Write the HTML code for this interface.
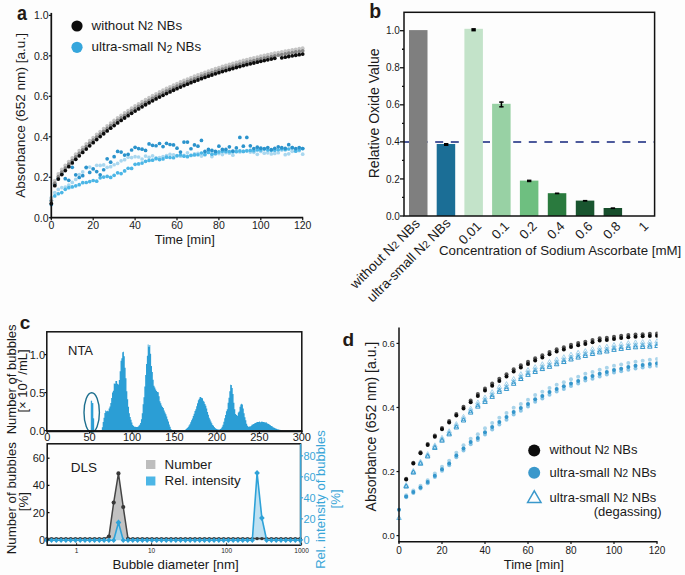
<!DOCTYPE html>
<html><head><meta charset="utf-8"><style>
html,body{margin:0;padding:0;background:#fdfdfd;}
svg{display:block;}
text{font-family:"Liberation Sans", sans-serif;}
</style></head><body>
<svg width="685" height="575" viewBox="0 0 685 575" font-family='"Liberation Sans", sans-serif'>
<rect width="685" height="575" fill="#fdfdfd"/>
<circle cx="51.30" cy="197.60" r="1.85" fill="#a9d7ef"/>
<circle cx="54.79" cy="192.52" r="1.85" fill="#a9d7ef"/>
<circle cx="58.28" cy="189.38" r="1.85" fill="#a9d7ef"/>
<circle cx="61.77" cy="187.62" r="1.85" fill="#a9d7ef"/>
<circle cx="65.27" cy="187.03" r="1.85" fill="#a9d7ef"/>
<circle cx="68.76" cy="185.16" r="1.85" fill="#a9d7ef"/>
<circle cx="72.25" cy="182.42" r="1.85" fill="#a9d7ef"/>
<circle cx="75.74" cy="179.44" r="1.85" fill="#a9d7ef"/>
<circle cx="79.23" cy="174.64" r="1.85" fill="#a9d7ef"/>
<circle cx="82.72" cy="171.94" r="1.85" fill="#a9d7ef"/>
<circle cx="86.22" cy="167.92" r="1.85" fill="#a9d7ef"/>
<circle cx="89.71" cy="167.11" r="1.85" fill="#a9d7ef"/>
<circle cx="93.20" cy="169.33" r="1.85" fill="#a9d7ef"/>
<circle cx="96.69" cy="165.31" r="1.85" fill="#a9d7ef"/>
<circle cx="100.18" cy="165.38" r="1.85" fill="#a9d7ef"/>
<circle cx="103.68" cy="164.97" r="1.85" fill="#a9d7ef"/>
<circle cx="107.17" cy="167.37" r="1.85" fill="#a9d7ef"/>
<circle cx="110.66" cy="166.71" r="1.85" fill="#a9d7ef"/>
<circle cx="114.15" cy="164.77" r="1.85" fill="#a9d7ef"/>
<circle cx="117.64" cy="163.44" r="1.85" fill="#a9d7ef"/>
<circle cx="121.13" cy="160.84" r="1.85" fill="#a9d7ef"/>
<circle cx="124.62" cy="159.64" r="1.85" fill="#a9d7ef"/>
<circle cx="128.12" cy="157.13" r="1.85" fill="#a9d7ef"/>
<circle cx="131.61" cy="157.53" r="1.85" fill="#a9d7ef"/>
<circle cx="135.10" cy="156.66" r="1.85" fill="#a9d7ef"/>
<circle cx="138.59" cy="157.02" r="1.85" fill="#a9d7ef"/>
<circle cx="142.08" cy="159.01" r="1.85" fill="#a9d7ef"/>
<circle cx="145.57" cy="156.11" r="1.85" fill="#a9d7ef"/>
<circle cx="149.07" cy="157.25" r="1.85" fill="#a9d7ef"/>
<circle cx="152.56" cy="155.83" r="1.85" fill="#a9d7ef"/>
<circle cx="156.05" cy="157.91" r="1.85" fill="#a9d7ef"/>
<circle cx="159.54" cy="157.57" r="1.85" fill="#a9d7ef"/>
<circle cx="163.03" cy="156.50" r="1.85" fill="#a9d7ef"/>
<circle cx="166.53" cy="155.65" r="1.85" fill="#a9d7ef"/>
<circle cx="170.02" cy="154.44" r="1.85" fill="#a9d7ef"/>
<circle cx="173.51" cy="154.83" r="1.85" fill="#a9d7ef"/>
<circle cx="177.00" cy="155.66" r="1.85" fill="#a9d7ef"/>
<circle cx="180.49" cy="156.23" r="1.85" fill="#a9d7ef"/>
<circle cx="183.98" cy="155.45" r="1.85" fill="#a9d7ef"/>
<circle cx="187.48" cy="152.81" r="1.85" fill="#a9d7ef"/>
<circle cx="190.97" cy="155.54" r="1.85" fill="#a9d7ef"/>
<circle cx="194.46" cy="153.89" r="1.85" fill="#a9d7ef"/>
<circle cx="197.95" cy="153.47" r="1.85" fill="#a9d7ef"/>
<circle cx="201.44" cy="156.10" r="1.85" fill="#a9d7ef"/>
<circle cx="204.93" cy="153.80" r="1.85" fill="#a9d7ef"/>
<circle cx="208.43" cy="151.91" r="1.85" fill="#a9d7ef"/>
<circle cx="211.92" cy="156.54" r="1.85" fill="#a9d7ef"/>
<circle cx="215.41" cy="154.03" r="1.85" fill="#a9d7ef"/>
<circle cx="218.90" cy="153.62" r="1.85" fill="#a9d7ef"/>
<circle cx="222.39" cy="154.53" r="1.85" fill="#a9d7ef"/>
<circle cx="225.88" cy="152.55" r="1.85" fill="#a9d7ef"/>
<circle cx="229.38" cy="153.25" r="1.85" fill="#a9d7ef"/>
<circle cx="232.87" cy="155.15" r="1.85" fill="#a9d7ef"/>
<circle cx="236.36" cy="151.78" r="1.85" fill="#a9d7ef"/>
<circle cx="239.85" cy="151.90" r="1.85" fill="#a9d7ef"/>
<circle cx="243.34" cy="151.43" r="1.85" fill="#a9d7ef"/>
<circle cx="246.83" cy="150.64" r="1.85" fill="#a9d7ef"/>
<circle cx="250.32" cy="152.10" r="1.85" fill="#a9d7ef"/>
<circle cx="253.82" cy="152.37" r="1.85" fill="#a9d7ef"/>
<circle cx="257.31" cy="154.31" r="1.85" fill="#a9d7ef"/>
<circle cx="260.80" cy="151.50" r="1.85" fill="#a9d7ef"/>
<circle cx="264.29" cy="153.17" r="1.85" fill="#a9d7ef"/>
<circle cx="267.78" cy="152.87" r="1.85" fill="#a9d7ef"/>
<circle cx="271.28" cy="153.95" r="1.85" fill="#a9d7ef"/>
<circle cx="274.77" cy="153.44" r="1.85" fill="#a9d7ef"/>
<circle cx="278.26" cy="152.74" r="1.85" fill="#a9d7ef"/>
<circle cx="281.75" cy="150.07" r="1.85" fill="#a9d7ef"/>
<circle cx="285.24" cy="154.72" r="1.85" fill="#a9d7ef"/>
<circle cx="288.73" cy="153.82" r="1.85" fill="#a9d7ef"/>
<circle cx="292.23" cy="151.33" r="1.85" fill="#a9d7ef"/>
<circle cx="295.72" cy="149.53" r="1.85" fill="#a9d7ef"/>
<circle cx="299.21" cy="150.68" r="1.85" fill="#a9d7ef"/>
<circle cx="302.70" cy="154.14" r="1.85" fill="#a9d7ef"/>
<circle cx="51.30" cy="200.31" r="1.85" fill="#4cb6e6"/>
<circle cx="54.79" cy="195.97" r="1.85" fill="#4cb6e6"/>
<circle cx="58.28" cy="193.74" r="1.85" fill="#4cb6e6"/>
<circle cx="61.77" cy="192.53" r="1.85" fill="#4cb6e6"/>
<circle cx="65.27" cy="189.30" r="1.85" fill="#4cb6e6"/>
<circle cx="68.76" cy="187.68" r="1.85" fill="#4cb6e6"/>
<circle cx="72.25" cy="186.93" r="1.85" fill="#4cb6e6"/>
<circle cx="75.74" cy="185.84" r="1.85" fill="#4cb6e6"/>
<circle cx="79.23" cy="184.67" r="1.85" fill="#4cb6e6"/>
<circle cx="82.72" cy="182.71" r="1.85" fill="#4cb6e6"/>
<circle cx="86.22" cy="182.48" r="1.85" fill="#4cb6e6"/>
<circle cx="89.71" cy="181.55" r="1.85" fill="#4cb6e6"/>
<circle cx="93.20" cy="180.51" r="1.85" fill="#4cb6e6"/>
<circle cx="96.69" cy="181.21" r="1.85" fill="#4cb6e6"/>
<circle cx="100.18" cy="177.87" r="1.85" fill="#4cb6e6"/>
<circle cx="103.68" cy="177.12" r="1.85" fill="#4cb6e6"/>
<circle cx="107.17" cy="176.45" r="1.85" fill="#4cb6e6"/>
<circle cx="110.66" cy="177.47" r="1.85" fill="#4cb6e6"/>
<circle cx="114.15" cy="175.36" r="1.85" fill="#4cb6e6"/>
<circle cx="117.64" cy="172.80" r="1.85" fill="#4cb6e6"/>
<circle cx="121.13" cy="173.60" r="1.85" fill="#4cb6e6"/>
<circle cx="124.62" cy="170.92" r="1.85" fill="#4cb6e6"/>
<circle cx="128.12" cy="168.25" r="1.85" fill="#4cb6e6"/>
<circle cx="131.61" cy="168.45" r="1.85" fill="#4cb6e6"/>
<circle cx="135.10" cy="164.37" r="1.85" fill="#4cb6e6"/>
<circle cx="138.59" cy="163.88" r="1.85" fill="#4cb6e6"/>
<circle cx="142.08" cy="163.09" r="1.85" fill="#4cb6e6"/>
<circle cx="145.57" cy="161.35" r="1.85" fill="#4cb6e6"/>
<circle cx="149.07" cy="160.40" r="1.85" fill="#4cb6e6"/>
<circle cx="152.56" cy="160.15" r="1.85" fill="#4cb6e6"/>
<circle cx="156.05" cy="158.64" r="1.85" fill="#4cb6e6"/>
<circle cx="159.54" cy="159.60" r="1.85" fill="#4cb6e6"/>
<circle cx="163.03" cy="158.89" r="1.85" fill="#4cb6e6"/>
<circle cx="166.53" cy="157.20" r="1.85" fill="#4cb6e6"/>
<circle cx="170.02" cy="157.52" r="1.85" fill="#4cb6e6"/>
<circle cx="173.51" cy="157.75" r="1.85" fill="#4cb6e6"/>
<circle cx="177.00" cy="155.75" r="1.85" fill="#4cb6e6"/>
<circle cx="180.49" cy="154.99" r="1.85" fill="#4cb6e6"/>
<circle cx="183.98" cy="156.20" r="1.85" fill="#4cb6e6"/>
<circle cx="187.48" cy="156.63" r="1.85" fill="#4cb6e6"/>
<circle cx="190.97" cy="155.27" r="1.85" fill="#4cb6e6"/>
<circle cx="194.46" cy="154.94" r="1.85" fill="#4cb6e6"/>
<circle cx="197.95" cy="154.73" r="1.85" fill="#4cb6e6"/>
<circle cx="201.44" cy="153.00" r="1.85" fill="#4cb6e6"/>
<circle cx="204.93" cy="154.64" r="1.85" fill="#4cb6e6"/>
<circle cx="208.43" cy="152.44" r="1.85" fill="#4cb6e6"/>
<circle cx="211.92" cy="154.16" r="1.85" fill="#4cb6e6"/>
<circle cx="215.41" cy="153.43" r="1.85" fill="#4cb6e6"/>
<circle cx="218.90" cy="151.93" r="1.85" fill="#4cb6e6"/>
<circle cx="222.39" cy="151.36" r="1.85" fill="#4cb6e6"/>
<circle cx="225.88" cy="151.41" r="1.85" fill="#4cb6e6"/>
<circle cx="229.38" cy="151.66" r="1.85" fill="#4cb6e6"/>
<circle cx="232.87" cy="151.65" r="1.85" fill="#4cb6e6"/>
<circle cx="236.36" cy="151.48" r="1.85" fill="#4cb6e6"/>
<circle cx="239.85" cy="150.96" r="1.85" fill="#4cb6e6"/>
<circle cx="243.34" cy="151.40" r="1.85" fill="#4cb6e6"/>
<circle cx="246.83" cy="150.86" r="1.85" fill="#4cb6e6"/>
<circle cx="250.32" cy="150.45" r="1.85" fill="#4cb6e6"/>
<circle cx="253.82" cy="150.75" r="1.85" fill="#4cb6e6"/>
<circle cx="257.31" cy="149.96" r="1.85" fill="#4cb6e6"/>
<circle cx="260.80" cy="149.95" r="1.85" fill="#4cb6e6"/>
<circle cx="264.29" cy="148.64" r="1.85" fill="#4cb6e6"/>
<circle cx="267.78" cy="149.88" r="1.85" fill="#4cb6e6"/>
<circle cx="271.28" cy="150.35" r="1.85" fill="#4cb6e6"/>
<circle cx="274.77" cy="150.17" r="1.85" fill="#4cb6e6"/>
<circle cx="278.26" cy="149.74" r="1.85" fill="#4cb6e6"/>
<circle cx="281.75" cy="148.85" r="1.85" fill="#4cb6e6"/>
<circle cx="285.24" cy="149.74" r="1.85" fill="#4cb6e6"/>
<circle cx="288.73" cy="149.01" r="1.85" fill="#4cb6e6"/>
<circle cx="292.23" cy="147.69" r="1.85" fill="#4cb6e6"/>
<circle cx="295.72" cy="151.14" r="1.85" fill="#4cb6e6"/>
<circle cx="299.21" cy="149.83" r="1.85" fill="#4cb6e6"/>
<circle cx="302.70" cy="148.58" r="1.85" fill="#4cb6e6"/>
<circle cx="51.30" cy="204.57" r="1.85" fill="#2b93cc"/>
<circle cx="54.79" cy="184.45" r="1.85" fill="#2b93cc"/>
<circle cx="58.28" cy="178.70" r="1.85" fill="#2b93cc"/>
<circle cx="61.77" cy="174.03" r="1.85" fill="#2b93cc"/>
<circle cx="65.27" cy="178.70" r="1.85" fill="#2b93cc"/>
<circle cx="68.76" cy="180.32" r="1.85" fill="#2b93cc"/>
<circle cx="72.25" cy="167.31" r="1.85" fill="#2b93cc"/>
<circle cx="75.74" cy="174.83" r="1.85" fill="#2b93cc"/>
<circle cx="79.23" cy="177.49" r="1.85" fill="#2b93cc"/>
<circle cx="82.72" cy="175.66" r="1.85" fill="#2b93cc"/>
<circle cx="86.22" cy="167.33" r="1.85" fill="#2b93cc"/>
<circle cx="89.71" cy="172.39" r="1.85" fill="#2b93cc"/>
<circle cx="93.20" cy="168.74" r="1.85" fill="#2b93cc"/>
<circle cx="96.69" cy="171.58" r="1.85" fill="#2b93cc"/>
<circle cx="100.18" cy="174.83" r="1.85" fill="#2b93cc"/>
<circle cx="103.68" cy="169.75" r="1.85" fill="#2b93cc"/>
<circle cx="107.17" cy="158.78" r="1.85" fill="#2b93cc"/>
<circle cx="110.66" cy="162.21" r="1.85" fill="#2b93cc"/>
<circle cx="114.15" cy="156.72" r="1.85" fill="#2b93cc"/>
<circle cx="117.64" cy="151.44" r="1.85" fill="#2b93cc"/>
<circle cx="121.13" cy="152.05" r="1.85" fill="#2b93cc"/>
<circle cx="124.62" cy="155.09" r="1.85" fill="#2b93cc"/>
<circle cx="128.12" cy="154.28" r="1.85" fill="#2b93cc"/>
<circle cx="131.61" cy="150.00" r="1.85" fill="#2b93cc"/>
<circle cx="135.10" cy="147.36" r="1.85" fill="#2b93cc"/>
<circle cx="138.59" cy="148.58" r="1.85" fill="#2b93cc"/>
<circle cx="142.08" cy="149.19" r="1.85" fill="#2b93cc"/>
<circle cx="145.57" cy="150.41" r="1.85" fill="#2b93cc"/>
<circle cx="149.07" cy="143.91" r="1.85" fill="#2b93cc"/>
<circle cx="152.56" cy="145.32" r="1.85" fill="#2b93cc"/>
<circle cx="156.05" cy="145.73" r="1.85" fill="#2b93cc"/>
<circle cx="159.54" cy="143.49" r="1.85" fill="#2b93cc"/>
<circle cx="163.03" cy="146.54" r="1.85" fill="#2b93cc"/>
<circle cx="166.53" cy="143.29" r="1.85" fill="#2b93cc"/>
<circle cx="170.02" cy="144.51" r="1.85" fill="#2b93cc"/>
<circle cx="173.51" cy="144.92" r="1.85" fill="#2b93cc"/>
<circle cx="177.00" cy="148.17" r="1.85" fill="#2b93cc"/>
<circle cx="180.49" cy="152.03" r="1.85" fill="#2b93cc"/>
<circle cx="183.98" cy="142.06" r="1.85" fill="#2b93cc"/>
<circle cx="187.48" cy="142.06" r="1.85" fill="#2b93cc"/>
<circle cx="190.97" cy="148.77" r="1.85" fill="#2b93cc"/>
<circle cx="194.46" cy="144.92" r="1.85" fill="#2b93cc"/>
<circle cx="197.95" cy="146.14" r="1.85" fill="#2b93cc"/>
<circle cx="201.44" cy="140.45" r="1.85" fill="#2b93cc"/>
<circle cx="204.93" cy="151.43" r="1.85" fill="#2b93cc"/>
<circle cx="208.43" cy="149.39" r="1.85" fill="#2b93cc"/>
<circle cx="211.92" cy="150.41" r="1.85" fill="#2b93cc"/>
<circle cx="215.41" cy="151.42" r="1.85" fill="#2b93cc"/>
<circle cx="218.90" cy="146.14" r="1.85" fill="#2b93cc"/>
<circle cx="222.39" cy="149.45" r="1.85" fill="#2b93cc"/>
<circle cx="225.88" cy="149.40" r="1.85" fill="#2b93cc"/>
<circle cx="229.38" cy="146.81" r="1.85" fill="#2b93cc"/>
<circle cx="232.87" cy="151.03" r="1.85" fill="#2b93cc"/>
<circle cx="236.36" cy="147.97" r="1.85" fill="#2b93cc"/>
<circle cx="239.85" cy="137.38" r="1.85" fill="#2b93cc"/>
<circle cx="243.34" cy="146.20" r="1.85" fill="#2b93cc"/>
<circle cx="246.83" cy="137.38" r="1.85" fill="#2b93cc"/>
<circle cx="250.32" cy="145.83" r="1.85" fill="#2b93cc"/>
<circle cx="253.82" cy="148.48" r="1.85" fill="#2b93cc"/>
<circle cx="257.31" cy="147.20" r="1.85" fill="#2b93cc"/>
<circle cx="260.80" cy="148.17" r="1.85" fill="#2b93cc"/>
<circle cx="264.29" cy="148.82" r="1.85" fill="#2b93cc"/>
<circle cx="267.78" cy="147.56" r="1.85" fill="#2b93cc"/>
<circle cx="271.28" cy="149.56" r="1.85" fill="#2b93cc"/>
<circle cx="274.77" cy="148.27" r="1.85" fill="#2b93cc"/>
<circle cx="278.26" cy="146.77" r="1.85" fill="#2b93cc"/>
<circle cx="281.75" cy="147.68" r="1.85" fill="#2b93cc"/>
<circle cx="285.24" cy="148.35" r="1.85" fill="#2b93cc"/>
<circle cx="288.73" cy="144.64" r="1.85" fill="#2b93cc"/>
<circle cx="292.23" cy="147.68" r="1.85" fill="#2b93cc"/>
<circle cx="295.72" cy="148.60" r="1.85" fill="#2b93cc"/>
<circle cx="299.21" cy="147.54" r="1.85" fill="#2b93cc"/>
<circle cx="302.70" cy="148.51" r="1.85" fill="#2b93cc"/>
<circle cx="51.30" cy="198.46" r="1.9" fill="#c4c4c4"/>
<circle cx="54.79" cy="180.55" r="1.9" fill="#c4c4c4"/>
<circle cx="58.28" cy="173.98" r="1.9" fill="#c4c4c4"/>
<circle cx="61.77" cy="169.50" r="1.9" fill="#c4c4c4"/>
<circle cx="65.27" cy="165.47" r="1.9" fill="#c4c4c4"/>
<circle cx="68.76" cy="161.62" r="1.9" fill="#c4c4c4"/>
<circle cx="72.25" cy="157.88" r="1.9" fill="#c4c4c4"/>
<circle cx="75.74" cy="154.25" r="1.9" fill="#c4c4c4"/>
<circle cx="79.23" cy="150.72" r="1.9" fill="#c4c4c4"/>
<circle cx="82.72" cy="147.29" r="1.9" fill="#c4c4c4"/>
<circle cx="86.22" cy="143.96" r="1.9" fill="#c4c4c4"/>
<circle cx="89.71" cy="140.72" r="1.9" fill="#c4c4c4"/>
<circle cx="93.20" cy="137.57" r="1.9" fill="#c4c4c4"/>
<circle cx="96.69" cy="134.51" r="1.9" fill="#c4c4c4"/>
<circle cx="100.18" cy="131.53" r="1.9" fill="#c4c4c4"/>
<circle cx="103.68" cy="128.64" r="1.9" fill="#c4c4c4"/>
<circle cx="107.17" cy="125.83" r="1.9" fill="#c4c4c4"/>
<circle cx="110.66" cy="123.10" r="1.9" fill="#c4c4c4"/>
<circle cx="114.15" cy="120.44" r="1.9" fill="#c4c4c4"/>
<circle cx="117.64" cy="117.86" r="1.9" fill="#c4c4c4"/>
<circle cx="121.13" cy="115.35" r="1.9" fill="#c4c4c4"/>
<circle cx="124.62" cy="112.92" r="1.9" fill="#c4c4c4"/>
<circle cx="128.12" cy="110.55" r="1.9" fill="#c4c4c4"/>
<circle cx="131.61" cy="108.24" r="1.9" fill="#c4c4c4"/>
<circle cx="135.10" cy="106.00" r="1.9" fill="#c4c4c4"/>
<circle cx="138.59" cy="103.83" r="1.9" fill="#c4c4c4"/>
<circle cx="142.08" cy="101.71" r="1.9" fill="#c4c4c4"/>
<circle cx="145.57" cy="99.66" r="1.9" fill="#c4c4c4"/>
<circle cx="149.07" cy="97.66" r="1.9" fill="#c4c4c4"/>
<circle cx="152.56" cy="95.72" r="1.9" fill="#c4c4c4"/>
<circle cx="156.05" cy="93.83" r="1.9" fill="#c4c4c4"/>
<circle cx="159.54" cy="91.99" r="1.9" fill="#c4c4c4"/>
<circle cx="163.03" cy="90.21" r="1.9" fill="#c4c4c4"/>
<circle cx="166.53" cy="88.48" r="1.9" fill="#c4c4c4"/>
<circle cx="170.02" cy="86.79" r="1.9" fill="#c4c4c4"/>
<circle cx="173.51" cy="85.15" r="1.9" fill="#c4c4c4"/>
<circle cx="177.00" cy="83.56" r="1.9" fill="#c4c4c4"/>
<circle cx="180.49" cy="82.01" r="1.9" fill="#c4c4c4"/>
<circle cx="183.98" cy="80.51" r="1.9" fill="#c4c4c4"/>
<circle cx="187.48" cy="79.05" r="1.9" fill="#c4c4c4"/>
<circle cx="190.97" cy="77.63" r="1.9" fill="#c4c4c4"/>
<circle cx="194.46" cy="76.25" r="1.9" fill="#c4c4c4"/>
<circle cx="197.95" cy="74.90" r="1.9" fill="#c4c4c4"/>
<circle cx="201.44" cy="73.60" r="1.9" fill="#c4c4c4"/>
<circle cx="204.93" cy="72.33" r="1.9" fill="#c4c4c4"/>
<circle cx="208.43" cy="71.10" r="1.9" fill="#c4c4c4"/>
<circle cx="211.92" cy="69.90" r="1.9" fill="#c4c4c4"/>
<circle cx="215.41" cy="68.74" r="1.9" fill="#c4c4c4"/>
<circle cx="218.90" cy="67.60" r="1.9" fill="#c4c4c4"/>
<circle cx="222.39" cy="66.50" r="1.9" fill="#c4c4c4"/>
<circle cx="225.88" cy="65.44" r="1.9" fill="#c4c4c4"/>
<circle cx="229.38" cy="64.40" r="1.9" fill="#c4c4c4"/>
<circle cx="232.87" cy="63.39" r="1.9" fill="#c4c4c4"/>
<circle cx="236.36" cy="62.40" r="1.9" fill="#c4c4c4"/>
<circle cx="239.85" cy="61.45" r="1.9" fill="#c4c4c4"/>
<circle cx="243.34" cy="60.52" r="1.9" fill="#c4c4c4"/>
<circle cx="246.83" cy="59.62" r="1.9" fill="#c4c4c4"/>
<circle cx="250.32" cy="58.74" r="1.9" fill="#c4c4c4"/>
<circle cx="253.82" cy="57.89" r="1.9" fill="#c4c4c4"/>
<circle cx="257.31" cy="57.06" r="1.9" fill="#c4c4c4"/>
<circle cx="260.80" cy="56.26" r="1.9" fill="#c4c4c4"/>
<circle cx="264.29" cy="55.48" r="1.9" fill="#c4c4c4"/>
<circle cx="267.78" cy="54.72" r="1.9" fill="#c4c4c4"/>
<circle cx="271.28" cy="53.98" r="1.9" fill="#c4c4c4"/>
<circle cx="274.77" cy="53.26" r="1.9" fill="#c4c4c4"/>
<circle cx="278.26" cy="52.56" r="1.9" fill="#c4c4c4"/>
<circle cx="281.75" cy="51.88" r="1.9" fill="#c4c4c4"/>
<circle cx="285.24" cy="51.22" r="1.9" fill="#c4c4c4"/>
<circle cx="288.73" cy="50.58" r="1.9" fill="#c4c4c4"/>
<circle cx="292.23" cy="49.96" r="1.9" fill="#c4c4c4"/>
<circle cx="295.72" cy="49.35" r="1.9" fill="#c4c4c4"/>
<circle cx="299.21" cy="48.77" r="1.9" fill="#c4c4c4"/>
<circle cx="302.70" cy="48.19" r="1.9" fill="#c4c4c4"/>
<circle cx="51.30" cy="201.11" r="1.9" fill="#858585"/>
<circle cx="54.79" cy="183.20" r="1.9" fill="#858585"/>
<circle cx="58.28" cy="176.63" r="1.9" fill="#858585"/>
<circle cx="61.77" cy="172.15" r="1.9" fill="#858585"/>
<circle cx="65.27" cy="168.12" r="1.9" fill="#858585"/>
<circle cx="68.76" cy="164.27" r="1.9" fill="#858585"/>
<circle cx="72.25" cy="160.53" r="1.9" fill="#858585"/>
<circle cx="75.74" cy="156.90" r="1.9" fill="#858585"/>
<circle cx="79.23" cy="153.37" r="1.9" fill="#858585"/>
<circle cx="82.72" cy="149.94" r="1.9" fill="#858585"/>
<circle cx="86.22" cy="146.61" r="1.9" fill="#858585"/>
<circle cx="89.71" cy="143.37" r="1.9" fill="#858585"/>
<circle cx="93.20" cy="140.22" r="1.9" fill="#858585"/>
<circle cx="96.69" cy="137.16" r="1.9" fill="#858585"/>
<circle cx="100.18" cy="134.18" r="1.9" fill="#858585"/>
<circle cx="103.68" cy="131.29" r="1.9" fill="#858585"/>
<circle cx="107.17" cy="128.48" r="1.9" fill="#858585"/>
<circle cx="110.66" cy="125.75" r="1.9" fill="#858585"/>
<circle cx="114.15" cy="123.09" r="1.9" fill="#858585"/>
<circle cx="117.64" cy="120.51" r="1.9" fill="#858585"/>
<circle cx="121.13" cy="118.00" r="1.9" fill="#858585"/>
<circle cx="124.62" cy="115.56" r="1.9" fill="#858585"/>
<circle cx="128.12" cy="113.19" r="1.9" fill="#858585"/>
<circle cx="131.61" cy="110.89" r="1.9" fill="#858585"/>
<circle cx="135.10" cy="108.65" r="1.9" fill="#858585"/>
<circle cx="138.59" cy="106.47" r="1.9" fill="#858585"/>
<circle cx="142.08" cy="104.36" r="1.9" fill="#858585"/>
<circle cx="145.57" cy="102.30" r="1.9" fill="#858585"/>
<circle cx="149.07" cy="100.30" r="1.9" fill="#858585"/>
<circle cx="152.56" cy="98.36" r="1.9" fill="#858585"/>
<circle cx="156.05" cy="96.47" r="1.9" fill="#858585"/>
<circle cx="159.54" cy="94.64" r="1.9" fill="#858585"/>
<circle cx="163.03" cy="92.86" r="1.9" fill="#858585"/>
<circle cx="166.53" cy="91.12" r="1.9" fill="#858585"/>
<circle cx="170.02" cy="89.44" r="1.9" fill="#858585"/>
<circle cx="173.51" cy="87.80" r="1.9" fill="#858585"/>
<circle cx="177.00" cy="86.21" r="1.9" fill="#858585"/>
<circle cx="180.49" cy="84.66" r="1.9" fill="#858585"/>
<circle cx="183.98" cy="83.16" r="1.9" fill="#858585"/>
<circle cx="187.48" cy="81.69" r="1.9" fill="#858585"/>
<circle cx="190.97" cy="80.27" r="1.9" fill="#858585"/>
<circle cx="194.46" cy="78.89" r="1.9" fill="#858585"/>
<circle cx="197.95" cy="77.55" r="1.9" fill="#858585"/>
<circle cx="201.44" cy="76.25" r="1.9" fill="#858585"/>
<circle cx="204.93" cy="74.98" r="1.9" fill="#858585"/>
<circle cx="208.43" cy="73.75" r="1.9" fill="#858585"/>
<circle cx="211.92" cy="72.55" r="1.9" fill="#858585"/>
<circle cx="215.41" cy="71.38" r="1.9" fill="#858585"/>
<circle cx="218.90" cy="70.25" r="1.9" fill="#858585"/>
<circle cx="222.39" cy="69.15" r="1.9" fill="#858585"/>
<circle cx="225.88" cy="68.08" r="1.9" fill="#858585"/>
<circle cx="229.38" cy="67.04" r="1.9" fill="#858585"/>
<circle cx="232.87" cy="66.03" r="1.9" fill="#858585"/>
<circle cx="236.36" cy="65.05" r="1.9" fill="#858585"/>
<circle cx="239.85" cy="64.10" r="1.9" fill="#858585"/>
<circle cx="243.34" cy="63.17" r="1.9" fill="#858585"/>
<circle cx="246.83" cy="62.27" r="1.9" fill="#858585"/>
<circle cx="250.32" cy="61.39" r="1.9" fill="#858585"/>
<circle cx="253.82" cy="60.54" r="1.9" fill="#858585"/>
<circle cx="257.31" cy="59.71" r="1.9" fill="#858585"/>
<circle cx="260.80" cy="58.91" r="1.9" fill="#858585"/>
<circle cx="264.29" cy="58.12" r="1.9" fill="#858585"/>
<circle cx="267.78" cy="57.36" r="1.9" fill="#858585"/>
<circle cx="271.28" cy="56.63" r="1.9" fill="#858585"/>
<circle cx="274.77" cy="55.91" r="1.9" fill="#858585"/>
<circle cx="278.26" cy="55.21" r="1.9" fill="#858585"/>
<circle cx="281.75" cy="54.53" r="1.9" fill="#858585"/>
<circle cx="285.24" cy="53.87" r="1.9" fill="#858585"/>
<circle cx="288.73" cy="53.23" r="1.9" fill="#858585"/>
<circle cx="292.23" cy="52.61" r="1.9" fill="#858585"/>
<circle cx="295.72" cy="52.00" r="1.9" fill="#858585"/>
<circle cx="299.21" cy="51.41" r="1.9" fill="#858585"/>
<circle cx="302.70" cy="50.84" r="1.9" fill="#858585"/>
<circle cx="51.30" cy="203.55" r="1.9" fill="#0d0d0d"/>
<circle cx="54.79" cy="185.64" r="1.9" fill="#0d0d0d"/>
<circle cx="58.28" cy="179.07" r="1.9" fill="#0d0d0d"/>
<circle cx="61.77" cy="174.59" r="1.9" fill="#0d0d0d"/>
<circle cx="65.27" cy="170.56" r="1.9" fill="#0d0d0d"/>
<circle cx="68.76" cy="166.71" r="1.9" fill="#0d0d0d"/>
<circle cx="72.25" cy="162.97" r="1.9" fill="#0d0d0d"/>
<circle cx="75.74" cy="159.34" r="1.9" fill="#0d0d0d"/>
<circle cx="79.23" cy="155.81" r="1.9" fill="#0d0d0d"/>
<circle cx="82.72" cy="152.38" r="1.9" fill="#0d0d0d"/>
<circle cx="86.22" cy="149.05" r="1.9" fill="#0d0d0d"/>
<circle cx="89.71" cy="145.81" r="1.9" fill="#0d0d0d"/>
<circle cx="93.20" cy="142.66" r="1.9" fill="#0d0d0d"/>
<circle cx="96.69" cy="139.60" r="1.9" fill="#0d0d0d"/>
<circle cx="100.18" cy="136.62" r="1.9" fill="#0d0d0d"/>
<circle cx="103.68" cy="133.73" r="1.9" fill="#0d0d0d"/>
<circle cx="107.17" cy="130.92" r="1.9" fill="#0d0d0d"/>
<circle cx="110.66" cy="128.19" r="1.9" fill="#0d0d0d"/>
<circle cx="114.15" cy="125.53" r="1.9" fill="#0d0d0d"/>
<circle cx="117.64" cy="122.95" r="1.9" fill="#0d0d0d"/>
<circle cx="121.13" cy="120.44" r="1.9" fill="#0d0d0d"/>
<circle cx="124.62" cy="118.01" r="1.9" fill="#0d0d0d"/>
<circle cx="128.12" cy="115.64" r="1.9" fill="#0d0d0d"/>
<circle cx="131.61" cy="113.33" r="1.9" fill="#0d0d0d"/>
<circle cx="135.10" cy="111.09" r="1.9" fill="#0d0d0d"/>
<circle cx="138.59" cy="108.92" r="1.9" fill="#0d0d0d"/>
<circle cx="142.08" cy="106.80" r="1.9" fill="#0d0d0d"/>
<circle cx="145.57" cy="104.75" r="1.9" fill="#0d0d0d"/>
<circle cx="149.07" cy="102.75" r="1.9" fill="#0d0d0d"/>
<circle cx="152.56" cy="100.81" r="1.9" fill="#0d0d0d"/>
<circle cx="156.05" cy="98.92" r="1.9" fill="#0d0d0d"/>
<circle cx="159.54" cy="97.08" r="1.9" fill="#0d0d0d"/>
<circle cx="163.03" cy="95.30" r="1.9" fill="#0d0d0d"/>
<circle cx="166.53" cy="93.57" r="1.9" fill="#0d0d0d"/>
<circle cx="170.02" cy="91.88" r="1.9" fill="#0d0d0d"/>
<circle cx="173.51" cy="90.24" r="1.9" fill="#0d0d0d"/>
<circle cx="177.00" cy="88.65" r="1.9" fill="#0d0d0d"/>
<circle cx="180.49" cy="87.10" r="1.9" fill="#0d0d0d"/>
<circle cx="183.98" cy="85.60" r="1.9" fill="#0d0d0d"/>
<circle cx="187.48" cy="84.14" r="1.9" fill="#0d0d0d"/>
<circle cx="190.97" cy="82.72" r="1.9" fill="#0d0d0d"/>
<circle cx="194.46" cy="81.34" r="1.9" fill="#0d0d0d"/>
<circle cx="197.95" cy="79.99" r="1.9" fill="#0d0d0d"/>
<circle cx="201.44" cy="78.69" r="1.9" fill="#0d0d0d"/>
<circle cx="204.93" cy="77.42" r="1.9" fill="#0d0d0d"/>
<circle cx="208.43" cy="76.19" r="1.9" fill="#0d0d0d"/>
<circle cx="211.92" cy="74.99" r="1.9" fill="#0d0d0d"/>
<circle cx="215.41" cy="73.83" r="1.9" fill="#0d0d0d"/>
<circle cx="218.90" cy="72.69" r="1.9" fill="#0d0d0d"/>
<circle cx="222.39" cy="71.59" r="1.9" fill="#0d0d0d"/>
<circle cx="225.88" cy="70.53" r="1.9" fill="#0d0d0d"/>
<circle cx="229.38" cy="69.49" r="1.9" fill="#0d0d0d"/>
<circle cx="232.87" cy="68.48" r="1.9" fill="#0d0d0d"/>
<circle cx="236.36" cy="67.49" r="1.9" fill="#0d0d0d"/>
<circle cx="239.85" cy="66.54" r="1.9" fill="#0d0d0d"/>
<circle cx="243.34" cy="65.61" r="1.9" fill="#0d0d0d"/>
<circle cx="246.83" cy="64.71" r="1.9" fill="#0d0d0d"/>
<circle cx="250.32" cy="63.83" r="1.9" fill="#0d0d0d"/>
<circle cx="253.82" cy="62.98" r="1.9" fill="#0d0d0d"/>
<circle cx="257.31" cy="62.15" r="1.9" fill="#0d0d0d"/>
<circle cx="260.80" cy="61.35" r="1.9" fill="#0d0d0d"/>
<circle cx="264.29" cy="60.57" r="1.9" fill="#0d0d0d"/>
<circle cx="267.78" cy="59.81" r="1.9" fill="#0d0d0d"/>
<circle cx="271.28" cy="59.07" r="1.9" fill="#0d0d0d"/>
<circle cx="274.77" cy="58.35" r="1.9" fill="#0d0d0d"/>
<circle cx="281.75" cy="57.79" r="1.9" fill="#0d0d0d"/>
<circle cx="285.24" cy="57.13" r="1.9" fill="#0d0d0d"/>
<circle cx="288.73" cy="56.49" r="1.9" fill="#0d0d0d"/>
<circle cx="292.23" cy="55.86" r="1.9" fill="#0d0d0d"/>
<circle cx="295.72" cy="55.26" r="1.9" fill="#0d0d0d"/>
<circle cx="299.21" cy="54.67" r="1.9" fill="#0d0d0d"/>
<circle cx="302.70" cy="54.10" r="1.9" fill="#0d0d0d"/>
<line x1="51.30" y1="12.90" x2="51.30" y2="218.50" stroke="#111" stroke-width="1.7" />
<line x1="50.50" y1="217.70" x2="303.20" y2="217.70" stroke="#111" stroke-width="1.7" />
<line x1="48.80" y1="217.70" x2="51.30" y2="217.70" stroke="#111" stroke-width="1.2" />
<text x="48.60" y="221.50" font-size="10.5" text-anchor="end" font-weight="normal" fill="#1a1a1a" >0.0</text>
<line x1="48.80" y1="177.24" x2="51.30" y2="177.24" stroke="#111" stroke-width="1.2" />
<text x="48.60" y="181.04" font-size="10.5" text-anchor="end" font-weight="normal" fill="#1a1a1a" >0.2</text>
<line x1="48.80" y1="136.78" x2="51.30" y2="136.78" stroke="#111" stroke-width="1.2" />
<text x="48.60" y="140.58" font-size="10.5" text-anchor="end" font-weight="normal" fill="#1a1a1a" >0.4</text>
<line x1="48.80" y1="96.32" x2="51.30" y2="96.32" stroke="#111" stroke-width="1.2" />
<text x="48.60" y="100.12" font-size="10.5" text-anchor="end" font-weight="normal" fill="#1a1a1a" >0.6</text>
<line x1="48.80" y1="55.86" x2="51.30" y2="55.86" stroke="#111" stroke-width="1.2" />
<text x="48.60" y="59.66" font-size="10.5" text-anchor="end" font-weight="normal" fill="#1a1a1a" >0.8</text>
<line x1="48.80" y1="15.40" x2="51.30" y2="15.40" stroke="#111" stroke-width="1.2" />
<text x="48.60" y="19.20" font-size="10.5" text-anchor="end" font-weight="normal" fill="#1a1a1a" >1.0</text>
<line x1="51.30" y1="217.70" x2="51.30" y2="220.20" stroke="#111" stroke-width="1.2" />
<text x="51.30" y="229.30" font-size="10.5" text-anchor="middle" font-weight="normal" fill="#1a1a1a" >0</text>
<line x1="93.20" y1="217.70" x2="93.20" y2="220.20" stroke="#111" stroke-width="1.2" />
<text x="93.20" y="229.30" font-size="10.5" text-anchor="middle" font-weight="normal" fill="#1a1a1a" >20</text>
<line x1="135.10" y1="217.70" x2="135.10" y2="220.20" stroke="#111" stroke-width="1.2" />
<text x="135.10" y="229.30" font-size="10.5" text-anchor="middle" font-weight="normal" fill="#1a1a1a" >40</text>
<line x1="177.00" y1="217.70" x2="177.00" y2="220.20" stroke="#111" stroke-width="1.2" />
<text x="177.00" y="229.30" font-size="10.5" text-anchor="middle" font-weight="normal" fill="#1a1a1a" >60</text>
<line x1="218.90" y1="217.70" x2="218.90" y2="220.20" stroke="#111" stroke-width="1.2" />
<text x="218.90" y="229.30" font-size="10.5" text-anchor="middle" font-weight="normal" fill="#1a1a1a" >80</text>
<line x1="260.80" y1="217.70" x2="260.80" y2="220.20" stroke="#111" stroke-width="1.2" />
<text x="260.80" y="229.30" font-size="10.5" text-anchor="middle" font-weight="normal" fill="#1a1a1a" >100</text>
<line x1="302.70" y1="217.70" x2="302.70" y2="220.20" stroke="#111" stroke-width="1.2" />
<text x="302.70" y="229.30" font-size="10.5" text-anchor="middle" font-weight="normal" fill="#1a1a1a" >120</text>
<text x="184.80" y="244.20" font-size="13" text-anchor="middle" font-weight="normal" fill="#1a1a1a" >Time [min]</text>
<text x="0" y="0" font-size="13.6" text-anchor="middle" fill="#1a1a1a" transform="translate(25.20,115.40) rotate(-90)">Absorbance (652 nm) [a.u.]</text>
<text x="0" y="0" font-size="19.5" font-weight="bold" fill="#231a16" transform="translate(16.9,20.0) scale(0.92,1)">a</text>
<circle cx="77.00" cy="26.00" r="5.6" fill="#0d0d0d"/>
<circle cx="77.00" cy="47.30" r="5.6" fill="#35a6dc"/>
<text x="91.50" y="29.60" font-size="13.4" text-anchor="start" font-weight="normal" fill="#1a1a1a" >without N<tspan font-size="10.5">2</tspan> NBs</text>
<text x="91.50" y="50.60" font-size="13.4" text-anchor="start" font-weight="normal" fill="#1a1a1a" >ultra-small N<tspan font-size="10" dy="2.5">2</tspan><tspan dy="-2.5"> NBs</tspan></text>
<line x1="404.00" y1="141.88" x2="654.60" y2="141.88" stroke="#4d5a9c" stroke-width="2" stroke-dasharray="8 7.6"/>
<rect x="409.00" y="30.10" width="18.5" height="185.90" fill="#7f7f7f"/>
<rect x="436.70" y="144.00" width="18.5" height="72.00" fill="#1b6e96"/>
<rect x="444.00" y="143.00" width="4.4" height="3.0" fill="#000"/>
<rect x="464.40" y="28.80" width="18.5" height="187.20" fill="#c3e3c9"/>
<rect x="471.40" y="28.10" width="4.4" height="3.3" fill="#000"/>
<rect x="492.10" y="103.80" width="18.5" height="112.20" fill="#98d1a4"/>
<line x1="501.40" y1="101.60" x2="501.40" y2="107.20" stroke="#000" stroke-width="1.5" />
<line x1="499.20" y1="102.10" x2="503.60" y2="102.10" stroke="#000" stroke-width="1.5" />
<line x1="499.20" y1="106.80" x2="503.60" y2="106.80" stroke="#000" stroke-width="1.5" />
<rect x="519.90" y="180.60" width="18.5" height="35.40" fill="#6ebf80"/>
<rect x="527.00" y="179.60" width="4.4" height="2.6" fill="#000"/>
<rect x="547.80" y="193.20" width="18.5" height="22.80" fill="#2a7a3e"/>
<rect x="554.90" y="192.50" width="4.4" height="1.8" fill="#000"/>
<rect x="575.80" y="200.60" width="18.5" height="15.40" fill="#19552f"/>
<rect x="582.90" y="199.90" width="4.4" height="1.8" fill="#000"/>
<rect x="603.60" y="208.00" width="18.5" height="8.00" fill="#174e2c"/>
<rect x="610.70" y="207.30" width="4.4" height="1.8" fill="#000"/>
<rect x="404" y="12.3" width="250.60" height="203.70" fill="none" stroke="#111" stroke-width="1.5"/>
<line x1="400.00" y1="216.00" x2="404.00" y2="216.00" stroke="#111" stroke-width="1.3" />
<text x="399.80" y="219.60" font-size="10" text-anchor="end" font-weight="normal" fill="#1a1a1a" >0.0</text>
<line x1="402.00" y1="197.47" x2="404.00" y2="197.47" stroke="#111" stroke-width="1.3" />
<line x1="400.00" y1="178.94" x2="404.00" y2="178.94" stroke="#111" stroke-width="1.3" />
<text x="399.80" y="182.54" font-size="10" text-anchor="end" font-weight="normal" fill="#1a1a1a" >0.2</text>
<line x1="402.00" y1="160.41" x2="404.00" y2="160.41" stroke="#111" stroke-width="1.3" />
<line x1="400.00" y1="141.88" x2="404.00" y2="141.88" stroke="#111" stroke-width="1.3" />
<text x="399.80" y="145.48" font-size="10" text-anchor="end" font-weight="normal" fill="#1a1a1a" >0.4</text>
<line x1="402.00" y1="123.35" x2="404.00" y2="123.35" stroke="#111" stroke-width="1.3" />
<line x1="400.00" y1="104.82" x2="404.00" y2="104.82" stroke="#111" stroke-width="1.3" />
<text x="399.80" y="108.42" font-size="10" text-anchor="end" font-weight="normal" fill="#1a1a1a" >0.6</text>
<line x1="402.00" y1="86.29" x2="404.00" y2="86.29" stroke="#111" stroke-width="1.3" />
<line x1="400.00" y1="67.76" x2="404.00" y2="67.76" stroke="#111" stroke-width="1.3" />
<text x="399.80" y="71.36" font-size="10" text-anchor="end" font-weight="normal" fill="#1a1a1a" >0.8</text>
<line x1="402.00" y1="49.23" x2="404.00" y2="49.23" stroke="#111" stroke-width="1.3" />
<line x1="400.00" y1="30.70" x2="404.00" y2="30.70" stroke="#111" stroke-width="1.3" />
<text x="399.80" y="34.30" font-size="10" text-anchor="end" font-weight="normal" fill="#1a1a1a" >1.0</text>
<text x="0" y="0" font-size="14" text-anchor="middle" fill="#1a1a1a" transform="translate(379.30,113.40) rotate(-90)">Relative Oxide Value</text>
<text x="369.30" y="18.30" font-size="19.5" text-anchor="start" font-weight="bold" fill="#231a16" >b</text>
<text x="0" y="0" font-size="13.6" text-anchor="end" fill="#1a1a1a" transform="translate(420.75,224.50) rotate(-45)">without N<tspan font-size="10.5">2</tspan> NBs</text>
<text x="0" y="0" font-size="13.6" text-anchor="end" fill="#1a1a1a" transform="translate(451.45,224.00) rotate(-45)">ultra-small N<tspan font-size="10.5">2</tspan> NBs</text>
<text x="0" y="0" font-size="13.2" text-anchor="end" fill="#1a1a1a" transform="translate(482.15,227.00) rotate(-45)">0.01</text>
<text x="0" y="0" font-size="13.2" text-anchor="end" fill="#1a1a1a" transform="translate(509.85,227.00) rotate(-45)">0.1</text>
<text x="0" y="0" font-size="13.2" text-anchor="end" fill="#1a1a1a" transform="translate(537.65,227.00) rotate(-45)">0.2</text>
<text x="0" y="0" font-size="13.2" text-anchor="end" fill="#1a1a1a" transform="translate(565.55,227.00) rotate(-45)">0.4</text>
<text x="0" y="0" font-size="13.2" text-anchor="end" fill="#1a1a1a" transform="translate(593.55,227.00) rotate(-45)">0.6</text>
<text x="0" y="0" font-size="13.2" text-anchor="end" fill="#1a1a1a" transform="translate(621.35,227.00) rotate(-45)">0.8</text>
<text x="0" y="0" font-size="13.2" text-anchor="end" fill="#1a1a1a" transform="translate(649.15,227.00) rotate(-45)">1</text>
<text x="438.90" y="255.00" font-size="13.3" text-anchor="start" font-weight="normal" fill="#1a1a1a" >Concentration of Sodium Ascorbate [mM]</text>
<polygon points="47.00,430.6 46.58,430.60 47.42,430.60 47.43,430.60 48.27,430.60 48.28,430.60 49.12,430.60 49.13,430.60 49.97,430.60 49.98,430.60 50.82,430.60 50.83,430.60 51.67,430.60 51.68,430.60 52.52,430.60 52.53,430.60 53.37,430.60 53.38,430.60 54.22,430.60 54.23,430.60 55.07,430.60 55.08,430.60 55.92,430.60 55.93,430.60 56.77,430.60 56.78,430.60 57.62,430.60 57.63,430.60 58.47,430.60 58.48,430.60 59.32,430.60 59.33,430.60 60.17,430.60 60.18,430.60 61.02,430.60 61.03,430.60 61.87,430.60 61.88,430.60 62.72,430.60 62.73,430.60 63.57,430.60 63.58,430.60 64.42,430.60 64.43,430.60 65.27,430.60 65.28,430.60 66.12,430.60 66.13,430.60 66.97,430.60 66.98,430.60 67.82,430.60 67.83,430.60 68.67,430.60 68.68,430.60 69.52,430.60 69.53,430.60 70.37,430.60 70.38,430.60 71.22,430.60 71.23,430.60 72.07,430.60 72.08,430.60 72.92,430.60 72.93,430.60 73.77,430.60 73.78,430.60 74.62,430.60 74.63,430.60 75.47,430.60 75.48,430.60 76.32,430.60 76.33,430.60 77.17,430.60 77.18,430.60 78.02,430.60 78.03,430.60 78.87,430.60 78.88,430.60 79.72,430.60 79.73,430.60 80.57,430.60 80.58,430.60 81.42,430.60 81.43,430.60 82.27,430.60 82.28,430.60 83.12,430.60 83.13,430.60 83.97,430.60 83.98,430.60 84.82,430.60 84.83,430.60 85.67,430.60 85.68,430.60 86.52,430.60 86.53,430.60 87.37,430.60 87.38,430.60 88.22,430.60 88.23,430.60 89.07,430.60 89.08,430.60 89.92,430.60 89.93,430.60 90.77,430.60 90.78,400.80 91.62,400.80 91.63,430.60 92.47,430.60 92.48,403.10 93.32,403.10 93.33,418.60 94.17,418.60 94.18,430.60 95.02,430.60 95.03,430.60 95.87,430.60 95.88,430.60 96.72,430.60 96.73,430.60 97.57,430.60 97.58,430.60 98.42,430.60 98.43,430.60 99.27,430.60 99.28,430.60 100.12,430.60 100.13,430.60 100.97,430.60 100.98,429.93 101.82,429.93 101.83,427.13 102.67,427.13 102.68,422.05 103.52,422.05 103.53,417.73 104.37,417.73 104.38,413.07 105.22,413.07 105.23,410.46 106.07,410.46 106.08,411.33 106.92,411.33 106.93,410.80 107.77,410.80 107.78,411.30 108.62,411.30 108.63,408.46 109.47,408.46 109.48,406.59 110.32,406.59 110.33,402.97 111.17,402.97 111.18,398.06 112.02,398.06 112.03,392.41 112.87,392.41 112.88,390.64 113.72,390.64 113.73,383.59 114.57,383.59 114.58,383.73 115.42,383.73 115.43,381.03 116.27,381.03 116.28,380.98 117.12,380.98 117.13,383.84 117.97,383.84 117.98,384.40 118.82,384.40 118.83,380.01 119.67,380.01 119.68,371.29 120.52,371.29 120.53,360.68 121.37,360.68 121.38,358.32 122.22,358.32 122.23,352.19 123.07,352.19 123.08,351.80 123.92,351.80 123.93,356.23 124.77,356.23 124.78,367.71 125.62,367.71 125.63,378.25 126.47,378.25 126.48,391.33 127.32,391.33 127.33,399.22 128.17,399.22 128.18,406.68 129.02,406.68 129.03,413.21 129.87,413.21 129.88,417.08 130.72,417.08 130.73,419.66 131.57,419.66 131.58,422.54 132.42,422.54 132.43,424.88 133.27,424.88 133.28,425.96 134.12,425.96 134.13,426.69 134.97,426.69 134.98,426.82 135.82,426.82 135.83,426.99 136.67,426.99 136.68,426.94 137.52,426.94 137.53,426.70 138.37,426.70 138.38,425.87 139.22,425.87 139.23,424.81 140.07,424.81 140.08,423.08 140.92,423.08 140.93,419.15 141.77,419.15 141.78,413.14 142.62,413.14 142.63,404.25 143.47,404.25 143.48,397.27 144.32,397.27 144.33,386.45 145.17,386.45 145.18,374.92 146.02,374.92 146.03,364.01 146.87,364.01 146.88,355.78 147.72,355.78 147.73,344.44 148.57,344.44 148.58,346.75 149.42,346.75 149.43,345.06 150.27,345.06 150.28,353.66 151.12,353.66 151.13,366.05 151.97,366.05 151.98,372.01 152.82,372.01 152.83,379.70 153.67,379.70 153.68,385.70 154.52,385.70 154.53,387.58 155.37,387.58 155.38,389.62 156.22,389.62 156.23,390.91 157.07,390.91 157.08,391.89 157.92,391.89 157.93,392.32 158.77,392.32 158.78,396.26 159.62,396.26 159.63,401.18 160.47,401.18 160.48,403.15 161.32,403.15 161.33,405.41 162.17,405.41 162.18,406.98 163.02,406.98 163.03,408.01 163.87,408.01 163.88,410.43 164.72,410.43 164.73,412.51 165.57,412.51 165.58,414.17 166.42,414.17 166.43,416.55 167.27,416.55 167.28,419.15 168.12,419.15 168.13,421.39 168.97,421.39 168.98,424.39 169.82,424.39 169.83,426.87 170.67,426.87 170.68,429.10 171.52,429.10 171.53,430.26 172.37,430.26 172.38,430.59 173.22,430.59 173.23,430.60 174.07,430.60 174.08,430.60 174.92,430.60 174.93,430.60 175.77,430.60 175.78,430.60 176.62,430.60 176.63,430.60 177.47,430.60 177.48,430.60 178.32,430.60 178.33,430.60 179.17,430.60 179.18,430.60 180.02,430.60 180.03,430.60 180.87,430.60 180.88,430.60 181.72,430.60 181.73,430.60 182.57,430.60 182.58,430.60 183.42,430.60 183.43,430.40 184.27,430.40 184.28,429.97 185.12,429.97 185.13,429.50 185.97,429.50 185.98,428.67 186.82,428.67 186.83,427.96 187.67,427.96 187.68,427.11 188.52,427.11 188.53,425.53 189.37,425.53 189.38,424.30 190.22,424.30 190.23,422.28 191.07,422.28 191.08,420.24 191.92,420.24 191.93,418.49 192.77,418.49 192.78,416.10 193.62,416.10 193.63,413.71 194.47,413.71 194.48,410.89 195.32,410.89 195.33,409.13 196.17,409.13 196.18,406.37 197.02,406.37 197.03,403.32 197.87,403.32 197.88,400.31 198.72,400.31 198.73,398.78 199.57,398.78 199.58,396.89 200.42,396.89 200.43,397.10 201.27,397.10 201.28,398.12 202.12,398.12 202.13,398.32 202.97,398.32 202.98,400.72 203.82,400.72 203.83,401.76 204.67,401.76 204.68,404.07 205.52,404.07 205.53,405.84 206.37,405.84 206.38,408.58 207.22,408.58 207.23,412.01 208.07,412.01 208.08,414.79 208.92,414.79 208.93,417.70 209.77,417.70 209.78,419.53 210.62,419.53 210.63,421.57 211.47,421.57 211.48,423.34 212.32,423.34 212.33,424.96 213.17,424.96 213.18,425.83 214.02,425.83 214.03,426.94 214.87,426.94 214.88,427.90 215.72,427.90 215.73,428.65 216.57,428.65 216.58,429.11 217.42,429.11 217.43,429.39 218.27,429.39 218.28,429.58 219.12,429.58 219.13,429.49 219.97,429.49 219.98,429.02 220.82,429.02 220.83,428.27 221.67,428.27 221.68,426.74 222.52,426.74 222.53,424.75 223.37,424.75 223.38,421.66 224.22,421.66 224.23,418.14 225.07,418.14 225.08,415.07 225.92,415.07 225.93,411.23 226.77,411.23 226.78,409.22 227.62,409.22 227.63,402.81 228.47,402.81 228.48,397.70 229.32,397.70 229.33,391.23 230.17,391.23 230.18,384.72 231.02,384.72 231.03,385.09 231.87,385.09 231.88,388.10 232.72,388.10 232.73,394.07 233.57,394.07 233.58,402.81 234.42,402.81 234.43,409.27 235.27,409.27 235.28,413.97 236.12,413.97 236.13,415.03 236.97,415.03 236.98,415.69 237.82,415.69 237.83,412.61 238.67,412.61 238.68,411.58 239.52,411.58 239.53,406.72 240.37,406.72 240.38,404.40 241.22,404.40 241.23,403.83 242.07,403.83 242.08,404.46 242.92,404.46 242.93,408.45 243.77,408.45 243.78,413.17 244.62,413.17 244.63,417.17 245.47,417.17 245.48,420.26 246.32,420.26 246.33,423.68 247.17,423.68 247.18,425.78 248.02,425.78 248.03,426.64 248.87,426.64 248.88,426.51 249.72,426.51 249.73,426.50 250.57,426.50 250.58,425.88 251.42,425.88 251.43,424.86 252.27,424.86 252.28,424.52 253.12,424.52 253.13,424.07 253.97,424.07 253.98,423.51 254.82,423.51 254.83,422.94 255.67,422.94 255.68,422.78 256.52,422.78 256.53,422.12 257.37,422.12 257.38,422.03 258.22,422.03 258.23,421.99 259.07,421.99 259.08,421.43 259.92,421.43 259.93,422.18 260.77,422.18 260.78,421.73 261.62,421.73 261.63,421.60 262.47,421.60 262.48,421.99 263.32,421.99 263.33,421.98 264.17,421.98 264.18,422.29 265.02,422.29 265.03,422.61 265.87,422.61 265.88,422.34 266.72,422.34 266.73,423.16 267.57,423.16 267.58,423.75 268.42,423.75 268.43,424.06 269.27,424.06 269.28,424.84 270.12,424.84 270.13,425.24 270.97,425.24 270.98,425.90 271.82,425.90 271.83,426.36 272.67,426.36 272.68,427.18 273.52,427.18 273.53,427.50 274.37,427.50 274.38,428.02 275.22,428.02 275.23,428.51 276.07,428.51 276.08,428.75 276.92,428.75 276.93,429.16 277.77,429.16 277.78,429.37 278.62,429.37 278.63,429.65 279.47,429.65 279.48,429.86 280.32,429.86 280.33,430.05 281.17,430.05 281.18,430.21 282.02,430.21 282.03,430.34 282.87,430.34 282.88,430.43 283.72,430.43 283.73,430.50 284.57,430.50 284.58,430.56 285.42,430.56 285.43,430.60 286.27,430.60 286.28,430.60 287.12,430.60 287.13,430.60 287.97,430.60 287.98,430.60 288.82,430.60 288.83,430.60 289.67,430.60 289.68,430.60 290.52,430.60 290.53,430.60 291.37,430.60 291.38,430.60 292.22,430.60 292.23,430.60 293.07,430.60 293.08,430.60 293.92,430.60 293.93,430.60 294.77,430.60 294.78,430.60 295.62,430.60 295.63,430.60 296.47,430.60 296.48,430.60 297.32,430.60 297.33,430.60 298.17,430.60 298.18,430.60 299.02,430.60 299.03,430.60 299.87,430.60 299.88,430.60 300.72,430.60 300.73,430.60 301.57,430.60 301.57,430.6" fill="#2b9ed5"/>
<rect x="91.10" y="400.80" width="1.0" height="29.80" fill="#2b9ed5"/>
<rect x="92.00" y="403.10" width="1.0" height="27.50" fill="#2b9ed5"/>
<rect x="92.90" y="418.60" width="1.0" height="12.00" fill="#2b9ed5"/>
<ellipse cx="91.7" cy="412.6" rx="7.7" ry="19.8" fill="none" stroke="#1d6f8e" stroke-width="1.4"/>
<rect x="46.8" y="331.8" width="255.00" height="99.20" fill="none" stroke="#111" stroke-width="1.5"/>
<line x1="46.80" y1="431.20" x2="302.50" y2="431.20" stroke="#111" stroke-width="2.0" />
<line x1="44.30" y1="430.60" x2="46.80" y2="430.60" stroke="#111" stroke-width="1.2" />
<text x="45.00" y="434.50" font-size="11" text-anchor="end" font-weight="normal" fill="#1a1a1a" >0.0</text>
<line x1="44.30" y1="392.60" x2="46.80" y2="392.60" stroke="#111" stroke-width="1.2" />
<text x="45.00" y="396.50" font-size="11" text-anchor="end" font-weight="normal" fill="#1a1a1a" >0.5</text>
<line x1="44.30" y1="354.60" x2="46.80" y2="354.60" stroke="#111" stroke-width="1.2" />
<text x="45.00" y="358.50" font-size="11" text-anchor="end" font-weight="normal" fill="#1a1a1a" >1.0</text>
<line x1="47.20" y1="431.00" x2="47.20" y2="433.50" stroke="#111" stroke-width="1.2" />
<text x="47.20" y="441.30" font-size="11" text-anchor="middle" font-weight="normal" fill="#1a1a1a" >0</text>
<line x1="89.64" y1="431.00" x2="89.64" y2="433.50" stroke="#111" stroke-width="1.2" />
<text x="89.64" y="441.30" font-size="11" text-anchor="middle" font-weight="normal" fill="#1a1a1a" >50</text>
<line x1="132.07" y1="431.00" x2="132.07" y2="433.50" stroke="#111" stroke-width="1.2" />
<text x="132.07" y="441.30" font-size="11" text-anchor="middle" font-weight="normal" fill="#1a1a1a" >100</text>
<line x1="174.50" y1="431.00" x2="174.50" y2="433.50" stroke="#111" stroke-width="1.2" />
<text x="174.50" y="441.30" font-size="11" text-anchor="middle" font-weight="normal" fill="#1a1a1a" >150</text>
<line x1="216.94" y1="431.00" x2="216.94" y2="433.50" stroke="#111" stroke-width="1.2" />
<text x="216.94" y="441.30" font-size="11" text-anchor="middle" font-weight="normal" fill="#1a1a1a" >200</text>
<line x1="259.38" y1="431.00" x2="259.38" y2="433.50" stroke="#111" stroke-width="1.2" />
<text x="259.38" y="441.30" font-size="11" text-anchor="middle" font-weight="normal" fill="#1a1a1a" >250</text>
<line x1="301.81" y1="431.00" x2="301.81" y2="433.50" stroke="#111" stroke-width="1.2" />
<text x="301.81" y="441.30" font-size="11" text-anchor="middle" font-weight="normal" fill="#1a1a1a" >300</text>
<text x="68.00" y="355.30" font-size="13" text-anchor="start" font-weight="normal" fill="#1a1a1a" >NTA</text>
<text x="0" y="0" font-size="13.0" text-anchor="middle" fill="#1a1a1a" transform="translate(16.00,379.40) rotate(-90)">Number of bubbles</text>
<text x="0" y="0" font-size="13" text-anchor="middle" fill="#1a1a1a" transform="translate(26.50,381.00) rotate(-90)">[× 10<tspan font-size="9" dy="-4.5">7</tspan><tspan dy="4.5"> /mL]</tspan></text>
<text x="19.70" y="328.70" font-size="19" text-anchor="start" font-weight="bold" fill="#231a16" >c</text>
<polygon points="104.12,538.8 104.12,538.60 108.90,536.60 113.68,502.60 118.46,473.40 123.24,507.00 128.02,538.80 132.80,538.60 132.80,538.8" fill="#c2c2c2"/>
<polygon points="113.68,540.2 113.68,540.20 118.46,522.60 123.24,540.20 123.24,540.2" fill="#a9d3e6"/>
<polygon points="252.31,540.2 252.31,540.20 257.09,473.00 261.87,518.00 266.65,540.20 266.65,540.2" fill="#bfe1f2"/>
<polyline points="46.75,538.60 51.53,538.60 56.32,538.60 61.10,538.60 65.88,538.60 70.66,538.60 75.44,538.60 80.22,538.60 85.00,538.60 89.78,538.60 94.56,538.60 99.34,538.60 104.12,538.60 108.90,536.60 113.68,502.60 118.46,473.40 123.24,507.00 128.02,538.80 132.80,538.60 137.58,538.60 142.36,538.60 147.14,538.60 151.92,538.60 156.70,538.60 161.48,538.60 166.26,538.60 171.04,538.60 175.82,538.60 180.60,538.60 185.39,538.60 190.17,538.60 194.95,538.60 199.73,538.60 204.51,538.60 209.29,538.60 214.07,538.60 218.85,538.60 223.63,538.60 228.41,538.60 233.19,538.60 237.97,538.60 242.75,538.60 247.53,538.60 252.31,538.60 257.09,538.60 261.87,538.60 266.65,538.60 271.43,538.60 276.21,538.60 280.99,538.60 285.77,538.60 290.55,538.60 295.33,538.60 300.11,538.60" fill="none" stroke="#454545" stroke-width="1.5"/>
<circle cx="46.75" cy="538.60" r="1.7" fill="#383838"/>
<circle cx="51.53" cy="538.60" r="1.7" fill="#383838"/>
<circle cx="56.32" cy="538.60" r="1.7" fill="#383838"/>
<circle cx="61.10" cy="538.60" r="1.7" fill="#383838"/>
<circle cx="65.88" cy="538.60" r="1.7" fill="#383838"/>
<circle cx="70.66" cy="538.60" r="1.7" fill="#383838"/>
<circle cx="75.44" cy="538.60" r="1.7" fill="#383838"/>
<circle cx="80.22" cy="538.60" r="1.7" fill="#383838"/>
<circle cx="85.00" cy="538.60" r="1.7" fill="#383838"/>
<circle cx="89.78" cy="538.60" r="1.7" fill="#383838"/>
<circle cx="94.56" cy="538.60" r="1.7" fill="#383838"/>
<circle cx="99.34" cy="538.60" r="1.7" fill="#383838"/>
<circle cx="104.12" cy="538.60" r="1.7" fill="#383838"/>
<circle cx="108.90" cy="536.60" r="2.1" fill="#383838"/>
<circle cx="113.68" cy="502.60" r="2.1" fill="#383838"/>
<circle cx="118.46" cy="473.40" r="2.1" fill="#383838"/>
<circle cx="123.24" cy="507.00" r="2.1" fill="#383838"/>
<circle cx="128.02" cy="538.80" r="2.1" fill="#383838"/>
<circle cx="132.80" cy="538.60" r="1.7" fill="#383838"/>
<circle cx="137.58" cy="538.60" r="1.7" fill="#383838"/>
<circle cx="142.36" cy="538.60" r="1.7" fill="#383838"/>
<circle cx="147.14" cy="538.60" r="1.7" fill="#383838"/>
<circle cx="151.92" cy="538.60" r="1.7" fill="#383838"/>
<circle cx="156.70" cy="538.60" r="1.7" fill="#383838"/>
<circle cx="161.48" cy="538.60" r="1.7" fill="#383838"/>
<circle cx="166.26" cy="538.60" r="1.7" fill="#383838"/>
<circle cx="171.04" cy="538.60" r="1.7" fill="#383838"/>
<circle cx="175.82" cy="538.60" r="1.7" fill="#383838"/>
<circle cx="180.60" cy="538.60" r="1.7" fill="#383838"/>
<circle cx="185.39" cy="538.60" r="1.7" fill="#383838"/>
<circle cx="190.17" cy="538.60" r="1.7" fill="#383838"/>
<circle cx="194.95" cy="538.60" r="1.7" fill="#383838"/>
<circle cx="199.73" cy="538.60" r="1.7" fill="#383838"/>
<circle cx="204.51" cy="538.60" r="1.7" fill="#383838"/>
<circle cx="209.29" cy="538.60" r="1.7" fill="#383838"/>
<circle cx="214.07" cy="538.60" r="1.7" fill="#383838"/>
<circle cx="218.85" cy="538.60" r="1.7" fill="#383838"/>
<circle cx="223.63" cy="538.60" r="1.7" fill="#383838"/>
<circle cx="228.41" cy="538.60" r="1.7" fill="#383838"/>
<circle cx="233.19" cy="538.60" r="1.7" fill="#383838"/>
<circle cx="237.97" cy="538.60" r="1.7" fill="#383838"/>
<circle cx="242.75" cy="538.60" r="1.7" fill="#383838"/>
<circle cx="247.53" cy="538.60" r="1.7" fill="#383838"/>
<circle cx="252.31" cy="538.60" r="1.7" fill="#383838"/>
<circle cx="257.09" cy="538.60" r="1.7" fill="#383838"/>
<circle cx="261.87" cy="538.60" r="1.7" fill="#383838"/>
<circle cx="266.65" cy="538.60" r="1.7" fill="#383838"/>
<circle cx="271.43" cy="538.60" r="1.7" fill="#383838"/>
<circle cx="276.21" cy="538.60" r="1.7" fill="#383838"/>
<circle cx="280.99" cy="538.60" r="1.7" fill="#383838"/>
<circle cx="285.77" cy="538.60" r="1.7" fill="#383838"/>
<circle cx="290.55" cy="538.60" r="1.7" fill="#383838"/>
<circle cx="295.33" cy="538.60" r="1.7" fill="#383838"/>
<circle cx="300.11" cy="538.60" r="1.7" fill="#383838"/>
<polyline points="46.75,540.20 51.53,540.20 56.32,540.20 61.10,540.20 65.88,540.20 70.66,540.20 75.44,540.20 80.22,540.20 85.00,540.20 89.78,540.20 94.56,540.20 99.34,540.20 104.12,540.20 108.90,540.20 113.68,540.20 118.46,522.60 123.24,540.20 128.02,540.20 132.80,540.20 137.58,540.20 142.36,540.20 147.14,540.20 151.92,540.20 156.70,540.20 161.48,540.20 166.26,540.20 171.04,540.20 175.82,540.20 180.60,540.20 185.39,540.20 190.17,540.20 194.95,540.20 199.73,540.20 204.51,540.20 209.29,540.20 214.07,540.20 218.85,540.20 223.63,540.20 228.41,540.20 233.19,540.20 237.97,540.20 242.75,540.20 247.53,540.20 252.31,540.20 257.09,473.00 261.87,518.00 266.65,540.20 271.43,540.20 276.21,540.20 280.99,540.20 285.77,540.20 290.55,540.20 295.33,540.20 300.11,540.20" fill="none" stroke="#2ea2d8" stroke-width="1.6"/>
<polygon points="46.75,537.40 49.30,540.20 46.75,543.00 44.20,540.20" fill="#2ea2d8"/>
<polygon points="51.53,537.40 54.08,540.20 51.53,543.00 48.98,540.20" fill="#2ea2d8"/>
<polygon points="56.32,537.40 58.87,540.20 56.32,543.00 53.77,540.20" fill="#2ea2d8"/>
<polygon points="61.10,537.40 63.65,540.20 61.10,543.00 58.55,540.20" fill="#2ea2d8"/>
<polygon points="65.88,537.40 68.43,540.20 65.88,543.00 63.33,540.20" fill="#2ea2d8"/>
<polygon points="70.66,537.40 73.21,540.20 70.66,543.00 68.11,540.20" fill="#2ea2d8"/>
<polygon points="75.44,537.40 77.99,540.20 75.44,543.00 72.89,540.20" fill="#2ea2d8"/>
<polygon points="80.22,537.40 82.77,540.20 80.22,543.00 77.67,540.20" fill="#2ea2d8"/>
<polygon points="85.00,537.40 87.55,540.20 85.00,543.00 82.45,540.20" fill="#2ea2d8"/>
<polygon points="89.78,537.40 92.33,540.20 89.78,543.00 87.23,540.20" fill="#2ea2d8"/>
<polygon points="94.56,537.40 97.11,540.20 94.56,543.00 92.01,540.20" fill="#2ea2d8"/>
<polygon points="99.34,537.40 101.89,540.20 99.34,543.00 96.79,540.20" fill="#2ea2d8"/>
<polygon points="104.12,537.40 106.67,540.20 104.12,543.00 101.57,540.20" fill="#2ea2d8"/>
<polygon points="108.90,537.40 111.45,540.20 108.90,543.00 106.35,540.20" fill="#2ea2d8"/>
<polygon points="113.68,537.40 116.23,540.20 113.68,543.00 111.13,540.20" fill="#2ea2d8"/>
<polygon points="118.46,519.52 121.26,522.60 118.46,525.68 115.66,522.60" fill="#2ea2d8"/>
<polygon points="123.24,537.40 125.79,540.20 123.24,543.00 120.69,540.20" fill="#2ea2d8"/>
<polygon points="128.02,537.40 130.57,540.20 128.02,543.00 125.47,540.20" fill="#2ea2d8"/>
<polygon points="132.80,537.40 135.35,540.20 132.80,543.00 130.25,540.20" fill="#2ea2d8"/>
<polygon points="137.58,537.40 140.13,540.20 137.58,543.00 135.03,540.20" fill="#2ea2d8"/>
<polygon points="142.36,537.40 144.91,540.20 142.36,543.00 139.81,540.20" fill="#2ea2d8"/>
<polygon points="147.14,537.40 149.69,540.20 147.14,543.00 144.59,540.20" fill="#2ea2d8"/>
<polygon points="151.92,537.40 154.47,540.20 151.92,543.00 149.37,540.20" fill="#2ea2d8"/>
<polygon points="156.70,537.40 159.25,540.20 156.70,543.00 154.15,540.20" fill="#2ea2d8"/>
<polygon points="161.48,537.40 164.03,540.20 161.48,543.00 158.93,540.20" fill="#2ea2d8"/>
<polygon points="166.26,537.40 168.81,540.20 166.26,543.00 163.71,540.20" fill="#2ea2d8"/>
<polygon points="171.04,537.40 173.59,540.20 171.04,543.00 168.49,540.20" fill="#2ea2d8"/>
<polygon points="175.82,537.40 178.37,540.20 175.82,543.00 173.27,540.20" fill="#2ea2d8"/>
<polygon points="180.60,537.40 183.15,540.20 180.60,543.00 178.05,540.20" fill="#2ea2d8"/>
<polygon points="185.39,537.40 187.94,540.20 185.39,543.00 182.84,540.20" fill="#2ea2d8"/>
<polygon points="190.17,537.40 192.72,540.20 190.17,543.00 187.62,540.20" fill="#2ea2d8"/>
<polygon points="194.95,537.40 197.50,540.20 194.95,543.00 192.40,540.20" fill="#2ea2d8"/>
<polygon points="199.73,537.40 202.28,540.20 199.73,543.00 197.18,540.20" fill="#2ea2d8"/>
<polygon points="204.51,537.40 207.06,540.20 204.51,543.00 201.96,540.20" fill="#2ea2d8"/>
<polygon points="209.29,537.40 211.84,540.20 209.29,543.00 206.74,540.20" fill="#2ea2d8"/>
<polygon points="214.07,537.40 216.62,540.20 214.07,543.00 211.52,540.20" fill="#2ea2d8"/>
<polygon points="218.85,537.40 221.40,540.20 218.85,543.00 216.30,540.20" fill="#2ea2d8"/>
<polygon points="223.63,537.40 226.18,540.20 223.63,543.00 221.08,540.20" fill="#2ea2d8"/>
<polygon points="228.41,537.40 230.96,540.20 228.41,543.00 225.86,540.20" fill="#2ea2d8"/>
<polygon points="233.19,537.40 235.74,540.20 233.19,543.00 230.64,540.20" fill="#2ea2d8"/>
<polygon points="237.97,537.40 240.52,540.20 237.97,543.00 235.42,540.20" fill="#2ea2d8"/>
<polygon points="242.75,537.40 245.30,540.20 242.75,543.00 240.20,540.20" fill="#2ea2d8"/>
<polygon points="247.53,537.40 250.08,540.20 247.53,543.00 244.98,540.20" fill="#2ea2d8"/>
<polygon points="252.31,537.40 254.86,540.20 252.31,543.00 249.76,540.20" fill="#2ea2d8"/>
<polygon points="257.09,469.92 259.89,473.00 257.09,476.08 254.29,473.00" fill="#2ea2d8"/>
<polygon points="261.87,514.92 264.67,518.00 261.87,521.08 259.07,518.00" fill="#2ea2d8"/>
<polygon points="266.65,537.40 269.20,540.20 266.65,543.00 264.10,540.20" fill="#2ea2d8"/>
<polygon points="271.43,537.40 273.98,540.20 271.43,543.00 268.88,540.20" fill="#2ea2d8"/>
<polygon points="276.21,537.40 278.76,540.20 276.21,543.00 273.66,540.20" fill="#2ea2d8"/>
<polygon points="280.99,537.40 283.54,540.20 280.99,543.00 278.44,540.20" fill="#2ea2d8"/>
<polygon points="285.77,537.40 288.32,540.20 285.77,543.00 283.22,540.20" fill="#2ea2d8"/>
<polygon points="290.55,537.40 293.10,540.20 290.55,543.00 288.00,540.20" fill="#2ea2d8"/>
<polygon points="295.33,537.40 297.88,540.20 295.33,543.00 292.78,540.20" fill="#2ea2d8"/>
<polygon points="300.11,537.40 302.66,540.20 300.11,543.00 297.56,540.20" fill="#2ea2d8"/>
<rect x="47.2" y="443.8" width="253.40" height="101.40" fill="none" stroke="#111" stroke-width="1.5"/>
<line x1="300.60" y1="443.80" x2="300.60" y2="545.20" stroke="#3aa6d8" stroke-width="1.5" />
<line x1="47.20" y1="539.80" x2="49.50" y2="539.80" stroke="#111" stroke-width="1.3" />
<text x="45.00" y="543.70" font-size="11" text-anchor="end" font-weight="normal" fill="#1a1a1a" >0</text>
<line x1="47.20" y1="512.60" x2="49.50" y2="512.60" stroke="#111" stroke-width="1.3" />
<text x="45.00" y="516.50" font-size="11" text-anchor="end" font-weight="normal" fill="#1a1a1a" >20</text>
<line x1="47.20" y1="485.40" x2="49.50" y2="485.40" stroke="#111" stroke-width="1.3" />
<text x="45.00" y="489.30" font-size="11" text-anchor="end" font-weight="normal" fill="#1a1a1a" >40</text>
<line x1="47.20" y1="458.20" x2="49.50" y2="458.20" stroke="#111" stroke-width="1.3" />
<text x="45.00" y="462.10" font-size="11" text-anchor="end" font-weight="normal" fill="#1a1a1a" >60</text>
<line x1="300.60" y1="539.80" x2="303.10" y2="539.80" stroke="#3aa6d8" stroke-width="1.2" />
<text x="303.50" y="543.70" font-size="11" text-anchor="start" font-weight="normal" fill="#3aa6d8" >0</text>
<line x1="300.60" y1="518.80" x2="303.10" y2="518.80" stroke="#3aa6d8" stroke-width="1.2" />
<text x="303.50" y="522.70" font-size="11" text-anchor="start" font-weight="normal" fill="#3aa6d8" >20</text>
<line x1="300.60" y1="497.80" x2="303.10" y2="497.80" stroke="#3aa6d8" stroke-width="1.2" />
<text x="303.50" y="501.70" font-size="11" text-anchor="start" font-weight="normal" fill="#3aa6d8" >40</text>
<line x1="300.60" y1="476.80" x2="303.10" y2="476.80" stroke="#3aa6d8" stroke-width="1.2" />
<text x="303.50" y="480.70" font-size="11" text-anchor="start" font-weight="normal" fill="#3aa6d8" >60</text>
<line x1="300.60" y1="455.80" x2="303.10" y2="455.80" stroke="#3aa6d8" stroke-width="1.2" />
<text x="303.50" y="459.70" font-size="11" text-anchor="start" font-weight="normal" fill="#3aa6d8" >80</text>
<text x="76.60" y="552.50" font-size="6.5" text-anchor="middle" font-weight="normal" fill="#1a1a1a" >1</text>
<line x1="76.60" y1="545.20" x2="76.60" y2="542.70" stroke="#111" stroke-width="0.8" />
<text x="151.60" y="552.50" font-size="6.5" text-anchor="middle" font-weight="normal" fill="#1a1a1a" >10</text>
<line x1="151.60" y1="545.20" x2="151.60" y2="542.70" stroke="#111" stroke-width="0.8" />
<text x="226.60" y="552.50" font-size="6.5" text-anchor="middle" font-weight="normal" fill="#1a1a1a" >100</text>
<line x1="226.60" y1="545.20" x2="226.60" y2="542.70" stroke="#111" stroke-width="0.8" />
<text x="301.60" y="552.50" font-size="6.5" text-anchor="middle" font-weight="normal" fill="#1a1a1a" >1000</text>
<line x1="301.60" y1="545.20" x2="301.60" y2="542.70" stroke="#111" stroke-width="0.8" />
<text x="70.80" y="472.30" font-size="13.5" text-anchor="start" font-weight="normal" fill="#1a1a1a" >DLS</text>
<rect x="146" y="460" width="9.4" height="9" fill="#bdbdbd"/>
<rect x="146" y="476.5" width="9.4" height="9" fill="#4cb6e6"/>
<text x="164.60" y="468.80" font-size="13.3" text-anchor="start" font-weight="normal" fill="#1a1a1a" >Number</text>
<text x="164.60" y="485.20" font-size="13.3" text-anchor="start" font-weight="normal" fill="#1a1a1a" >Rel. intensity</text>
<text x="112.40" y="569.20" font-size="13.3" text-anchor="start" font-weight="normal" fill="#1a1a1a" >Bubble diameter [nm]</text>
<text x="0" y="0" font-size="13.3" text-anchor="middle" fill="#1a1a1a" transform="translate(16.20,498.20) rotate(-90)">Number of bubbles</text>
<text x="0" y="0" font-size="13.3" text-anchor="middle" fill="#1a1a1a" transform="translate(28.30,501.70) rotate(-90)">[%]</text>
<text x="0" y="0" font-size="13.05" text-anchor="middle" fill="#3aa6d8" transform="translate(325.00,499.60) rotate(-90)">Rel. intensity of bubbles</text>
<text x="0" y="0" font-size="13.3" text-anchor="middle" fill="#3aa6d8" transform="translate(340.00,498.80) rotate(-90)">[%]</text>
<circle cx="406.17" cy="495.24" r="2.0" fill="#a9d4ea"/>
<circle cx="413.33" cy="490.54" r="2.0" fill="#a9d4ea"/>
<circle cx="420.50" cy="485.82" r="2.0" fill="#a9d4ea"/>
<circle cx="427.67" cy="480.14" r="2.0" fill="#a9d4ea"/>
<circle cx="434.83" cy="473.51" r="2.0" fill="#a9d4ea"/>
<circle cx="442.00" cy="466.87" r="2.0" fill="#a9d4ea"/>
<circle cx="449.17" cy="460.87" r="2.0" fill="#a9d4ea"/>
<circle cx="456.33" cy="452.64" r="2.0" fill="#a9d4ea"/>
<circle cx="463.50" cy="445.36" r="2.0" fill="#a9d4ea"/>
<circle cx="470.67" cy="438.71" r="2.0" fill="#a9d4ea"/>
<circle cx="477.83" cy="434.33" r="2.0" fill="#a9d4ea"/>
<circle cx="485.00" cy="428.33" r="2.0" fill="#a9d4ea"/>
<circle cx="492.17" cy="422.96" r="2.0" fill="#a9d4ea"/>
<circle cx="499.33" cy="417.73" r="2.0" fill="#a9d4ea"/>
<circle cx="506.50" cy="412.93" r="2.0" fill="#a9d4ea"/>
<circle cx="513.67" cy="407.80" r="2.0" fill="#a9d4ea"/>
<circle cx="520.83" cy="403.96" r="2.0" fill="#a9d4ea"/>
<circle cx="528.00" cy="399.79" r="2.0" fill="#a9d4ea"/>
<circle cx="535.17" cy="394.98" r="2.0" fill="#a9d4ea"/>
<circle cx="542.33" cy="391.79" r="2.0" fill="#a9d4ea"/>
<circle cx="549.50" cy="387.94" r="2.0" fill="#a9d4ea"/>
<circle cx="556.67" cy="384.74" r="2.0" fill="#a9d4ea"/>
<circle cx="563.83" cy="382.18" r="2.0" fill="#a9d4ea"/>
<circle cx="571.00" cy="379.29" r="2.0" fill="#a9d4ea"/>
<circle cx="578.17" cy="376.73" r="2.0" fill="#a9d4ea"/>
<circle cx="585.33" cy="373.85" r="2.0" fill="#a9d4ea"/>
<circle cx="592.50" cy="371.93" r="2.0" fill="#a9d4ea"/>
<circle cx="599.67" cy="369.68" r="2.0" fill="#a9d4ea"/>
<circle cx="606.83" cy="367.76" r="2.0" fill="#a9d4ea"/>
<circle cx="614.00" cy="365.84" r="2.0" fill="#a9d4ea"/>
<circle cx="621.17" cy="364.56" r="2.0" fill="#a9d4ea"/>
<circle cx="628.33" cy="362.96" r="2.0" fill="#a9d4ea"/>
<circle cx="635.50" cy="361.68" r="2.0" fill="#a9d4ea"/>
<circle cx="642.67" cy="360.72" r="2.0" fill="#a9d4ea"/>
<circle cx="649.83" cy="359.76" r="2.0" fill="#a9d4ea"/>
<circle cx="657.00" cy="359.11" r="2.0" fill="#a9d4ea"/>
<circle cx="406.17" cy="497.30" r="2.0" fill="#8cc6e6"/>
<circle cx="413.33" cy="492.97" r="2.0" fill="#8cc6e6"/>
<circle cx="420.50" cy="488.62" r="2.0" fill="#8cc6e6"/>
<circle cx="427.67" cy="483.31" r="2.0" fill="#8cc6e6"/>
<circle cx="434.83" cy="477.06" r="2.0" fill="#8cc6e6"/>
<circle cx="442.00" cy="470.79" r="2.0" fill="#8cc6e6"/>
<circle cx="449.17" cy="465.16" r="2.0" fill="#8cc6e6"/>
<circle cx="456.33" cy="457.31" r="2.0" fill="#8cc6e6"/>
<circle cx="463.50" cy="450.40" r="2.0" fill="#8cc6e6"/>
<circle cx="470.67" cy="444.13" r="2.0" fill="#8cc6e6"/>
<circle cx="477.83" cy="440.12" r="2.0" fill="#8cc6e6"/>
<circle cx="485.00" cy="434.49" r="2.0" fill="#8cc6e6"/>
<circle cx="492.17" cy="429.50" r="2.0" fill="#8cc6e6"/>
<circle cx="499.33" cy="424.46" r="2.0" fill="#8cc6e6"/>
<circle cx="506.50" cy="419.65" r="2.0" fill="#8cc6e6"/>
<circle cx="513.67" cy="414.52" r="2.0" fill="#8cc6e6"/>
<circle cx="520.83" cy="410.69" r="2.0" fill="#8cc6e6"/>
<circle cx="528.00" cy="406.52" r="2.0" fill="#8cc6e6"/>
<circle cx="535.17" cy="401.71" r="2.0" fill="#8cc6e6"/>
<circle cx="542.33" cy="398.52" r="2.0" fill="#8cc6e6"/>
<circle cx="549.50" cy="394.67" r="2.0" fill="#8cc6e6"/>
<circle cx="556.67" cy="391.46" r="2.0" fill="#8cc6e6"/>
<circle cx="563.83" cy="388.91" r="2.0" fill="#8cc6e6"/>
<circle cx="571.00" cy="386.02" r="2.0" fill="#8cc6e6"/>
<circle cx="578.17" cy="383.45" r="2.0" fill="#8cc6e6"/>
<circle cx="585.33" cy="380.58" r="2.0" fill="#8cc6e6"/>
<circle cx="592.50" cy="378.65" r="2.0" fill="#8cc6e6"/>
<circle cx="599.67" cy="376.41" r="2.0" fill="#8cc6e6"/>
<circle cx="606.83" cy="374.49" r="2.0" fill="#8cc6e6"/>
<circle cx="614.00" cy="372.57" r="2.0" fill="#8cc6e6"/>
<circle cx="621.17" cy="371.28" r="2.0" fill="#8cc6e6"/>
<circle cx="628.33" cy="369.69" r="2.0" fill="#8cc6e6"/>
<circle cx="635.50" cy="368.40" r="2.0" fill="#8cc6e6"/>
<circle cx="642.67" cy="367.44" r="2.0" fill="#8cc6e6"/>
<circle cx="649.83" cy="366.48" r="2.0" fill="#8cc6e6"/>
<circle cx="657.00" cy="365.84" r="2.0" fill="#8cc6e6"/>
<circle cx="399.00" cy="509.66" r="2.0" fill="#3596cb"/>
<circle cx="406.17" cy="496.52" r="2.0" fill="#3596cb"/>
<circle cx="413.33" cy="492.04" r="2.0" fill="#3596cb"/>
<circle cx="420.50" cy="487.56" r="2.0" fill="#3596cb"/>
<circle cx="427.67" cy="482.10" r="2.0" fill="#3596cb"/>
<circle cx="434.83" cy="475.71" r="2.0" fill="#3596cb"/>
<circle cx="442.00" cy="469.30" r="2.0" fill="#3596cb"/>
<circle cx="449.17" cy="463.53" r="2.0" fill="#3596cb"/>
<circle cx="456.33" cy="455.53" r="2.0" fill="#3596cb"/>
<circle cx="463.50" cy="448.48" r="2.0" fill="#3596cb"/>
<circle cx="470.67" cy="442.07" r="2.0" fill="#3596cb"/>
<circle cx="477.83" cy="437.91" r="2.0" fill="#3596cb"/>
<circle cx="485.00" cy="432.14" r="2.0" fill="#3596cb"/>
<circle cx="492.17" cy="427.01" r="2.0" fill="#3596cb"/>
<circle cx="499.33" cy="421.90" r="2.0" fill="#3596cb"/>
<circle cx="506.50" cy="417.09" r="2.0" fill="#3596cb"/>
<circle cx="513.67" cy="411.96" r="2.0" fill="#3596cb"/>
<circle cx="520.83" cy="408.12" r="2.0" fill="#3596cb"/>
<circle cx="528.00" cy="403.96" r="2.0" fill="#3596cb"/>
<circle cx="535.17" cy="399.15" r="2.0" fill="#3596cb"/>
<circle cx="542.33" cy="395.95" r="2.0" fill="#3596cb"/>
<circle cx="549.50" cy="392.11" r="2.0" fill="#3596cb"/>
<circle cx="556.67" cy="388.90" r="2.0" fill="#3596cb"/>
<circle cx="563.83" cy="386.34" r="2.0" fill="#3596cb"/>
<circle cx="571.00" cy="383.46" r="2.0" fill="#3596cb"/>
<circle cx="578.17" cy="380.89" r="2.0" fill="#3596cb"/>
<circle cx="585.33" cy="378.01" r="2.0" fill="#3596cb"/>
<circle cx="592.50" cy="376.09" r="2.0" fill="#3596cb"/>
<circle cx="599.67" cy="373.85" r="2.0" fill="#3596cb"/>
<circle cx="606.83" cy="371.93" r="2.0" fill="#3596cb"/>
<circle cx="614.00" cy="370.00" r="2.0" fill="#3596cb"/>
<circle cx="621.17" cy="368.72" r="2.0" fill="#3596cb"/>
<circle cx="628.33" cy="367.12" r="2.0" fill="#3596cb"/>
<circle cx="635.50" cy="365.84" r="2.0" fill="#3596cb"/>
<circle cx="642.67" cy="364.88" r="2.0" fill="#3596cb"/>
<circle cx="649.83" cy="363.92" r="2.0" fill="#3596cb"/>
<circle cx="657.00" cy="363.28" r="2.0" fill="#3596cb"/>
<polygon points="406.17,482.54 408.42,486.59 403.92,486.59" fill="none" stroke="#a6d3ec" stroke-width="1.0"/>
<polygon points="413.33,468.32 415.58,472.37 411.08,472.37" fill="none" stroke="#a6d3ec" stroke-width="1.0"/>
<polygon points="420.50,459.18 422.75,463.23 418.25,463.23" fill="none" stroke="#a6d3ec" stroke-width="1.0"/>
<polygon points="427.67,451.64 429.92,455.69 425.42,455.69" fill="none" stroke="#a6d3ec" stroke-width="1.0"/>
<polygon points="434.83,442.85 437.08,446.90 432.58,446.90" fill="none" stroke="#a6d3ec" stroke-width="1.0"/>
<polygon points="442.00,435.32 444.25,439.37 439.75,439.37" fill="none" stroke="#a6d3ec" stroke-width="1.0"/>
<polygon points="449.17,428.74 451.42,432.79 446.92,432.79" fill="none" stroke="#a6d3ec" stroke-width="1.0"/>
<polygon points="456.33,421.55 458.58,425.60 454.08,425.60" fill="none" stroke="#a6d3ec" stroke-width="1.0"/>
<polygon points="463.50,414.34 465.75,418.39 461.25,418.39" fill="none" stroke="#a6d3ec" stroke-width="1.0"/>
<polygon points="470.67,406.16 472.92,410.21 468.42,410.21" fill="none" stroke="#a6d3ec" stroke-width="1.0"/>
<polygon points="477.83,399.93 480.08,403.98 475.58,403.98" fill="none" stroke="#a6d3ec" stroke-width="1.0"/>
<polygon points="485.00,394.96 487.25,399.01 482.75,399.01" fill="none" stroke="#a6d3ec" stroke-width="1.0"/>
<polygon points="492.17,389.67 494.42,393.72 489.92,393.72" fill="none" stroke="#a6d3ec" stroke-width="1.0"/>
<polygon points="499.33,384.47 501.58,388.52 497.08,388.52" fill="none" stroke="#a6d3ec" stroke-width="1.0"/>
<polygon points="506.50,381.59 508.75,385.64 504.25,385.64" fill="none" stroke="#a6d3ec" stroke-width="1.0"/>
<polygon points="513.67,376.46 515.92,380.51 511.42,380.51" fill="none" stroke="#a6d3ec" stroke-width="1.0"/>
<polygon points="520.83,371.66 523.08,375.71 518.58,375.71" fill="none" stroke="#a6d3ec" stroke-width="1.0"/>
<polygon points="528.00,367.49 530.25,371.54 525.75,371.54" fill="none" stroke="#a6d3ec" stroke-width="1.0"/>
<polygon points="535.17,364.61 537.42,368.66 532.92,368.66" fill="none" stroke="#a6d3ec" stroke-width="1.0"/>
<polygon points="542.33,361.73 544.58,365.78 540.08,365.78" fill="none" stroke="#a6d3ec" stroke-width="1.0"/>
<polygon points="549.50,359.49 551.75,363.54 547.25,363.54" fill="none" stroke="#a6d3ec" stroke-width="1.0"/>
<polygon points="556.67,356.92 558.92,360.97 554.42,360.97" fill="none" stroke="#a6d3ec" stroke-width="1.0"/>
<polygon points="563.83,354.68 566.08,358.73 561.58,358.73" fill="none" stroke="#a6d3ec" stroke-width="1.0"/>
<polygon points="571.00,352.12 573.25,356.17 568.75,356.17" fill="none" stroke="#a6d3ec" stroke-width="1.0"/>
<polygon points="578.17,350.20 580.42,354.25 575.92,354.25" fill="none" stroke="#a6d3ec" stroke-width="1.0"/>
<polygon points="585.33,348.60 587.58,352.65 583.08,352.65" fill="none" stroke="#a6d3ec" stroke-width="1.0"/>
<polygon points="592.50,346.67 594.75,350.72 590.25,350.72" fill="none" stroke="#a6d3ec" stroke-width="1.0"/>
<polygon points="599.67,345.07 601.92,349.12 597.42,349.12" fill="none" stroke="#a6d3ec" stroke-width="1.0"/>
<polygon points="606.83,344.11 609.08,348.16 604.58,348.16" fill="none" stroke="#a6d3ec" stroke-width="1.0"/>
<polygon points="614.00,342.51 616.25,346.56 611.75,346.56" fill="none" stroke="#a6d3ec" stroke-width="1.0"/>
<polygon points="621.17,341.55 623.42,345.60 618.92,345.60" fill="none" stroke="#a6d3ec" stroke-width="1.0"/>
<polygon points="628.33,340.59 630.58,344.64 626.08,344.64" fill="none" stroke="#a6d3ec" stroke-width="1.0"/>
<polygon points="635.50,339.95 637.75,344.00 633.25,344.00" fill="none" stroke="#a6d3ec" stroke-width="1.0"/>
<polygon points="642.67,339.63 644.92,343.68 640.42,343.68" fill="none" stroke="#a6d3ec" stroke-width="1.0"/>
<polygon points="649.83,339.31 652.08,343.36 647.58,343.36" fill="none" stroke="#a6d3ec" stroke-width="1.0"/>
<polygon points="657.00,338.67 659.25,342.72 654.75,342.72" fill="none" stroke="#a6d3ec" stroke-width="1.0"/>
<polygon points="399.00,515.47 401.25,519.52 396.75,519.52" fill="none" stroke="#6db8e0" stroke-width="1.0"/>
<polygon points="406.17,483.42 408.42,487.47 403.92,487.47" fill="none" stroke="#6db8e0" stroke-width="1.0"/>
<polygon points="413.33,469.36 415.58,473.41 411.08,473.41" fill="none" stroke="#6db8e0" stroke-width="1.0"/>
<polygon points="420.50,460.38 422.75,464.43 418.25,464.43" fill="none" stroke="#6db8e0" stroke-width="1.0"/>
<polygon points="427.67,453.01 429.92,457.06 425.42,457.06" fill="none" stroke="#6db8e0" stroke-width="1.0"/>
<polygon points="434.83,444.37 437.08,448.42 432.58,448.42" fill="none" stroke="#6db8e0" stroke-width="1.0"/>
<polygon points="442.00,437.00 444.25,441.05 439.75,441.05" fill="none" stroke="#6db8e0" stroke-width="1.0"/>
<polygon points="449.17,430.59 451.42,434.64 446.92,434.64" fill="none" stroke="#6db8e0" stroke-width="1.0"/>
<polygon points="456.33,423.55 458.58,427.60 454.08,427.60" fill="none" stroke="#6db8e0" stroke-width="1.0"/>
<polygon points="463.50,416.50 465.75,420.55 461.25,420.55" fill="none" stroke="#6db8e0" stroke-width="1.0"/>
<polygon points="470.67,408.49 472.92,412.54 468.42,412.54" fill="none" stroke="#6db8e0" stroke-width="1.0"/>
<polygon points="477.83,402.41 480.08,406.46 475.58,406.46" fill="none" stroke="#6db8e0" stroke-width="1.0"/>
<polygon points="485.00,397.60 487.25,401.65 482.75,401.65" fill="none" stroke="#6db8e0" stroke-width="1.0"/>
<polygon points="492.17,392.47 494.42,396.52 489.92,396.52" fill="none" stroke="#6db8e0" stroke-width="1.0"/>
<polygon points="499.33,387.36 501.58,391.41 497.08,391.41" fill="none" stroke="#6db8e0" stroke-width="1.0"/>
<polygon points="506.50,384.47 508.75,388.52 504.25,388.52" fill="none" stroke="#6db8e0" stroke-width="1.0"/>
<polygon points="513.67,379.34 515.92,383.39 511.42,383.39" fill="none" stroke="#6db8e0" stroke-width="1.0"/>
<polygon points="520.83,374.54 523.08,378.59 518.58,378.59" fill="none" stroke="#6db8e0" stroke-width="1.0"/>
<polygon points="528.00,370.38 530.25,374.43 525.75,374.43" fill="none" stroke="#6db8e0" stroke-width="1.0"/>
<polygon points="535.17,367.49 537.42,371.54 532.92,371.54" fill="none" stroke="#6db8e0" stroke-width="1.0"/>
<polygon points="542.33,364.61 544.58,368.66 540.08,368.66" fill="none" stroke="#6db8e0" stroke-width="1.0"/>
<polygon points="549.50,362.37 551.75,366.42 547.25,366.42" fill="none" stroke="#6db8e0" stroke-width="1.0"/>
<polygon points="556.67,359.80 558.92,363.85 554.42,363.85" fill="none" stroke="#6db8e0" stroke-width="1.0"/>
<polygon points="563.83,357.57 566.08,361.62 561.58,361.62" fill="none" stroke="#6db8e0" stroke-width="1.0"/>
<polygon points="571.00,355.00 573.25,359.05 568.75,359.05" fill="none" stroke="#6db8e0" stroke-width="1.0"/>
<polygon points="578.17,353.08 580.42,357.13 575.92,357.13" fill="none" stroke="#6db8e0" stroke-width="1.0"/>
<polygon points="585.33,351.48 587.58,355.53 583.08,355.53" fill="none" stroke="#6db8e0" stroke-width="1.0"/>
<polygon points="592.50,349.56 594.75,353.61 590.25,353.61" fill="none" stroke="#6db8e0" stroke-width="1.0"/>
<polygon points="599.67,347.95 601.92,352.00 597.42,352.00" fill="none" stroke="#6db8e0" stroke-width="1.0"/>
<polygon points="606.83,347.00 609.08,351.05 604.58,351.05" fill="none" stroke="#6db8e0" stroke-width="1.0"/>
<polygon points="614.00,345.39 616.25,349.44 611.75,349.44" fill="none" stroke="#6db8e0" stroke-width="1.0"/>
<polygon points="621.17,344.43 623.42,348.48 618.92,348.48" fill="none" stroke="#6db8e0" stroke-width="1.0"/>
<polygon points="628.33,343.47 630.58,347.52 626.08,347.52" fill="none" stroke="#6db8e0" stroke-width="1.0"/>
<polygon points="635.50,342.83 637.75,346.88 633.25,346.88" fill="none" stroke="#6db8e0" stroke-width="1.0"/>
<polygon points="642.67,342.51 644.92,346.56 640.42,346.56" fill="none" stroke="#6db8e0" stroke-width="1.0"/>
<polygon points="649.83,342.19 652.08,346.24 647.58,346.24" fill="none" stroke="#6db8e0" stroke-width="1.0"/>
<polygon points="657.00,341.55 659.25,345.60 654.75,345.60" fill="none" stroke="#6db8e0" stroke-width="1.0"/>
<polygon points="406.17,484.01 408.42,488.06 403.92,488.06" fill="none" stroke="#3596cb" stroke-width="1.0"/>
<polygon points="413.33,470.05 415.58,474.10 411.08,474.10" fill="none" stroke="#3596cb" stroke-width="1.0"/>
<polygon points="420.50,461.18 422.75,465.23 418.25,465.23" fill="none" stroke="#3596cb" stroke-width="1.0"/>
<polygon points="427.67,453.91 429.92,457.96 425.42,457.96" fill="none" stroke="#3596cb" stroke-width="1.0"/>
<polygon points="434.83,445.39 437.08,449.44 432.58,449.44" fill="none" stroke="#3596cb" stroke-width="1.0"/>
<polygon points="442.00,438.12 444.25,442.17 439.75,442.17" fill="none" stroke="#3596cb" stroke-width="1.0"/>
<polygon points="449.17,431.81 451.42,435.86 446.92,435.86" fill="none" stroke="#3596cb" stroke-width="1.0"/>
<polygon points="456.33,424.89 458.58,428.94 454.08,428.94" fill="none" stroke="#3596cb" stroke-width="1.0"/>
<polygon points="463.50,417.94 465.75,421.99 461.25,421.99" fill="none" stroke="#3596cb" stroke-width="1.0"/>
<polygon points="470.67,410.03 472.92,414.08 468.42,414.08" fill="none" stroke="#3596cb" stroke-width="1.0"/>
<polygon points="477.83,404.07 480.08,408.12 475.58,408.12" fill="none" stroke="#3596cb" stroke-width="1.0"/>
<polygon points="485.00,399.36 487.25,403.41 482.75,403.41" fill="none" stroke="#3596cb" stroke-width="1.0"/>
<polygon points="492.17,394.34 494.42,398.39 489.92,398.39" fill="none" stroke="#3596cb" stroke-width="1.0"/>
<polygon points="499.33,389.28 501.58,393.33 497.08,393.33" fill="none" stroke="#3596cb" stroke-width="1.0"/>
<polygon points="506.50,386.39 508.75,390.44 504.25,390.44" fill="none" stroke="#3596cb" stroke-width="1.0"/>
<polygon points="513.67,381.26 515.92,385.31 511.42,385.31" fill="none" stroke="#3596cb" stroke-width="1.0"/>
<polygon points="520.83,376.47 523.08,380.52 518.58,380.52" fill="none" stroke="#3596cb" stroke-width="1.0"/>
<polygon points="528.00,372.30 530.25,376.35 525.75,376.35" fill="none" stroke="#3596cb" stroke-width="1.0"/>
<polygon points="535.17,369.41 537.42,373.46 532.92,373.46" fill="none" stroke="#3596cb" stroke-width="1.0"/>
<polygon points="542.33,366.54 544.58,370.59 540.08,370.59" fill="none" stroke="#3596cb" stroke-width="1.0"/>
<polygon points="549.50,364.29 551.75,368.34 547.25,368.34" fill="none" stroke="#3596cb" stroke-width="1.0"/>
<polygon points="556.67,361.73 558.92,365.78 554.42,365.78" fill="none" stroke="#3596cb" stroke-width="1.0"/>
<polygon points="563.83,359.49 566.08,363.54 561.58,363.54" fill="none" stroke="#3596cb" stroke-width="1.0"/>
<polygon points="571.00,356.92 573.25,360.97 568.75,360.97" fill="none" stroke="#3596cb" stroke-width="1.0"/>
<polygon points="578.17,355.00 580.42,359.05 575.92,359.05" fill="none" stroke="#3596cb" stroke-width="1.0"/>
<polygon points="585.33,353.40 587.58,357.45 583.08,357.45" fill="none" stroke="#3596cb" stroke-width="1.0"/>
<polygon points="592.50,351.48 594.75,355.53 590.25,355.53" fill="none" stroke="#3596cb" stroke-width="1.0"/>
<polygon points="599.67,349.88 601.92,353.93 597.42,353.93" fill="none" stroke="#3596cb" stroke-width="1.0"/>
<polygon points="606.83,348.92 609.08,352.97 604.58,352.97" fill="none" stroke="#3596cb" stroke-width="1.0"/>
<polygon points="614.00,347.31 616.25,351.37 611.75,351.37" fill="none" stroke="#3596cb" stroke-width="1.0"/>
<polygon points="621.17,346.35 623.42,350.40 618.92,350.40" fill="none" stroke="#3596cb" stroke-width="1.0"/>
<polygon points="628.33,345.39 630.58,349.44 626.08,349.44" fill="none" stroke="#3596cb" stroke-width="1.0"/>
<polygon points="635.50,344.75 637.75,348.80 633.25,348.80" fill="none" stroke="#3596cb" stroke-width="1.0"/>
<polygon points="642.67,344.43 644.92,348.48 640.42,348.48" fill="none" stroke="#3596cb" stroke-width="1.0"/>
<polygon points="649.83,344.11 652.08,348.16 647.58,348.16" fill="none" stroke="#3596cb" stroke-width="1.0"/>
<polygon points="657.00,343.47 659.25,347.52 654.75,347.52" fill="none" stroke="#3596cb" stroke-width="1.0"/>
<circle cx="406.17" cy="478.84" r="2.0" fill="#555"/>
<circle cx="413.33" cy="462.74" r="2.0" fill="#555"/>
<circle cx="420.50" cy="452.35" r="2.0" fill="#555"/>
<circle cx="427.67" cy="443.89" r="2.0" fill="#555"/>
<circle cx="434.83" cy="435.45" r="2.0" fill="#555"/>
<circle cx="442.00" cy="427.95" r="2.0" fill="#555"/>
<circle cx="449.17" cy="421.09" r="2.0" fill="#555"/>
<circle cx="456.33" cy="413.94" r="2.0" fill="#555"/>
<circle cx="463.50" cy="406.76" r="2.0" fill="#555"/>
<circle cx="470.67" cy="400.54" r="2.0" fill="#555"/>
<circle cx="477.83" cy="394.02" r="2.0" fill="#555"/>
<circle cx="485.00" cy="388.45" r="2.0" fill="#555"/>
<circle cx="492.17" cy="383.51" r="2.0" fill="#555"/>
<circle cx="499.33" cy="378.66" r="2.0" fill="#555"/>
<circle cx="506.50" cy="374.17" r="2.0" fill="#555"/>
<circle cx="513.67" cy="369.36" r="2.0" fill="#555"/>
<circle cx="520.83" cy="365.20" r="2.0" fill="#555"/>
<circle cx="528.00" cy="361.68" r="2.0" fill="#555"/>
<circle cx="535.17" cy="358.15" r="2.0" fill="#555"/>
<circle cx="542.33" cy="355.27" r="2.0" fill="#555"/>
<circle cx="549.50" cy="352.07" r="2.0" fill="#555"/>
<circle cx="556.67" cy="349.18" r="2.0" fill="#555"/>
<circle cx="563.83" cy="347.27" r="2.0" fill="#555"/>
<circle cx="571.00" cy="344.70" r="2.0" fill="#555"/>
<circle cx="578.17" cy="343.10" r="2.0" fill="#555"/>
<circle cx="585.33" cy="341.82" r="2.0" fill="#555"/>
<circle cx="592.50" cy="339.90" r="2.0" fill="#555"/>
<circle cx="599.67" cy="338.29" r="2.0" fill="#555"/>
<circle cx="606.83" cy="337.66" r="2.0" fill="#555"/>
<circle cx="614.00" cy="336.69" r="2.0" fill="#555"/>
<circle cx="621.17" cy="335.73" r="2.0" fill="#555"/>
<circle cx="628.33" cy="335.09" r="2.0" fill="#555"/>
<circle cx="635.50" cy="334.45" r="2.0" fill="#555"/>
<circle cx="642.67" cy="334.13" r="2.0" fill="#555"/>
<circle cx="649.83" cy="333.81" r="2.0" fill="#555"/>
<circle cx="657.00" cy="333.49" r="2.0" fill="#555"/>
<circle cx="406.17" cy="479.53" r="2.0" fill="#0d0d0d"/>
<circle cx="413.33" cy="463.54" r="2.0" fill="#0d0d0d"/>
<circle cx="420.50" cy="453.28" r="2.0" fill="#0d0d0d"/>
<circle cx="427.67" cy="444.95" r="2.0" fill="#0d0d0d"/>
<circle cx="434.83" cy="436.64" r="2.0" fill="#0d0d0d"/>
<circle cx="442.00" cy="429.26" r="2.0" fill="#0d0d0d"/>
<circle cx="449.17" cy="422.53" r="2.0" fill="#0d0d0d"/>
<circle cx="456.33" cy="415.49" r="2.0" fill="#0d0d0d"/>
<circle cx="463.50" cy="408.44" r="2.0" fill="#0d0d0d"/>
<circle cx="470.67" cy="402.35" r="2.0" fill="#0d0d0d"/>
<circle cx="477.83" cy="395.96" r="2.0" fill="#0d0d0d"/>
<circle cx="485.00" cy="390.50" r="2.0" fill="#0d0d0d"/>
<circle cx="492.17" cy="385.69" r="2.0" fill="#0d0d0d"/>
<circle cx="499.33" cy="380.90" r="2.0" fill="#0d0d0d"/>
<circle cx="506.50" cy="376.41" r="2.0" fill="#0d0d0d"/>
<circle cx="513.67" cy="371.60" r="2.0" fill="#0d0d0d"/>
<circle cx="520.83" cy="367.45" r="2.0" fill="#0d0d0d"/>
<circle cx="528.00" cy="363.92" r="2.0" fill="#0d0d0d"/>
<circle cx="535.17" cy="360.39" r="2.0" fill="#0d0d0d"/>
<circle cx="542.33" cy="357.52" r="2.0" fill="#0d0d0d"/>
<circle cx="549.50" cy="354.31" r="2.0" fill="#0d0d0d"/>
<circle cx="556.67" cy="351.43" r="2.0" fill="#0d0d0d"/>
<circle cx="563.83" cy="349.51" r="2.0" fill="#0d0d0d"/>
<circle cx="571.00" cy="346.94" r="2.0" fill="#0d0d0d"/>
<circle cx="578.17" cy="345.34" r="2.0" fill="#0d0d0d"/>
<circle cx="585.33" cy="344.06" r="2.0" fill="#0d0d0d"/>
<circle cx="592.50" cy="342.14" r="2.0" fill="#0d0d0d"/>
<circle cx="599.67" cy="340.54" r="2.0" fill="#0d0d0d"/>
<circle cx="606.83" cy="339.90" r="2.0" fill="#0d0d0d"/>
<circle cx="614.00" cy="338.94" r="2.0" fill="#0d0d0d"/>
<circle cx="621.17" cy="337.97" r="2.0" fill="#0d0d0d"/>
<circle cx="628.33" cy="337.33" r="2.0" fill="#0d0d0d"/>
<circle cx="635.50" cy="336.69" r="2.0" fill="#0d0d0d"/>
<circle cx="642.67" cy="336.37" r="2.0" fill="#0d0d0d"/>
<circle cx="649.83" cy="336.05" r="2.0" fill="#0d0d0d"/>
<circle cx="657.00" cy="335.73" r="2.0" fill="#0d0d0d"/>
<rect x="657.6" y="320" width="20" height="220" fill="#fdfdfd"/>
<line x1="399.00" y1="327.40" x2="399.00" y2="542.40" stroke="#111" stroke-width="1.5" />
<line x1="398.30" y1="541.80" x2="657.60" y2="541.80" stroke="#111" stroke-width="1.5" />
<line x1="396.50" y1="535.60" x2="399.00" y2="535.60" stroke="#111" stroke-width="1.2" />
<text x="394.80" y="538.90" font-size="9" text-anchor="end" font-weight="normal" fill="#1a1a1a" >0.0</text>
<line x1="396.50" y1="471.54" x2="399.00" y2="471.54" stroke="#111" stroke-width="1.2" />
<text x="394.80" y="474.84" font-size="9" text-anchor="end" font-weight="normal" fill="#1a1a1a" >0.2</text>
<line x1="396.50" y1="407.48" x2="399.00" y2="407.48" stroke="#111" stroke-width="1.2" />
<text x="394.80" y="410.78" font-size="9" text-anchor="end" font-weight="normal" fill="#1a1a1a" >0.4</text>
<line x1="396.50" y1="343.42" x2="399.00" y2="343.42" stroke="#111" stroke-width="1.2" />
<text x="394.80" y="346.72" font-size="9" text-anchor="end" font-weight="normal" fill="#1a1a1a" >0.6</text>
<line x1="399.00" y1="541.80" x2="399.00" y2="544.00" stroke="#111" stroke-width="1.2" />
<text x="399.00" y="553.80" font-size="10" text-anchor="middle" font-weight="normal" fill="#1a1a1a" >0</text>
<line x1="442.00" y1="541.80" x2="442.00" y2="544.00" stroke="#111" stroke-width="1.2" />
<text x="442.00" y="553.80" font-size="10" text-anchor="middle" font-weight="normal" fill="#1a1a1a" >20</text>
<line x1="485.00" y1="541.80" x2="485.00" y2="544.00" stroke="#111" stroke-width="1.2" />
<text x="485.00" y="553.80" font-size="10" text-anchor="middle" font-weight="normal" fill="#1a1a1a" >40</text>
<line x1="528.00" y1="541.80" x2="528.00" y2="544.00" stroke="#111" stroke-width="1.2" />
<text x="528.00" y="553.80" font-size="10" text-anchor="middle" font-weight="normal" fill="#1a1a1a" >60</text>
<line x1="571.00" y1="541.80" x2="571.00" y2="544.00" stroke="#111" stroke-width="1.2" />
<text x="571.00" y="553.80" font-size="10" text-anchor="middle" font-weight="normal" fill="#1a1a1a" >80</text>
<line x1="614.00" y1="541.80" x2="614.00" y2="544.00" stroke="#111" stroke-width="1.2" />
<text x="614.00" y="553.80" font-size="10" text-anchor="middle" font-weight="normal" fill="#1a1a1a" >100</text>
<line x1="657.00" y1="541.80" x2="657.00" y2="544.00" stroke="#111" stroke-width="1.2" />
<text x="657.00" y="553.80" font-size="10" text-anchor="middle" font-weight="normal" fill="#1a1a1a" >120</text>
<text x="533.80" y="569.20" font-size="13" text-anchor="middle" font-weight="normal" fill="#1a1a1a" >Time [min]</text>
<text x="0" y="0" font-size="14" text-anchor="middle" fill="#1a1a1a" transform="translate(376.30,426.60) rotate(-90)">Absorbance (652 nm) [a.u.]</text>
<text x="342.60" y="346.10" font-size="19" text-anchor="start" font-weight="bold" fill="#231a16" >d</text>
<circle cx="534.20" cy="450.60" r="6" fill="#0d0d0d"/>
<circle cx="534.20" cy="472.80" r="6" fill="#3a98cb"/>
<polygon points="534.3,490.8 541.0,502.5 527.6,502.5" fill="none" stroke="#3a98cb" stroke-width="1.5"/>
<text x="549.60" y="454.40" font-size="13" text-anchor="start" font-weight="normal" fill="#1a1a1a" >without N<tspan font-size="10">2</tspan> NBs</text>
<text x="549.60" y="476.70" font-size="13" text-anchor="start" font-weight="normal" fill="#1a1a1a" >ultra-small N<tspan font-size="10">2</tspan> NBs</text>
<text x="549.60" y="502.20" font-size="13" text-anchor="start" font-weight="normal" fill="#1a1a1a" >ultra-small N<tspan font-size="10">2</tspan> NBs</text>
<text x="661.60" y="515.80" font-size="13" text-anchor="end" font-weight="normal" fill="#1a1a1a" >(degassing)</text>
</svg>
</body></html>
